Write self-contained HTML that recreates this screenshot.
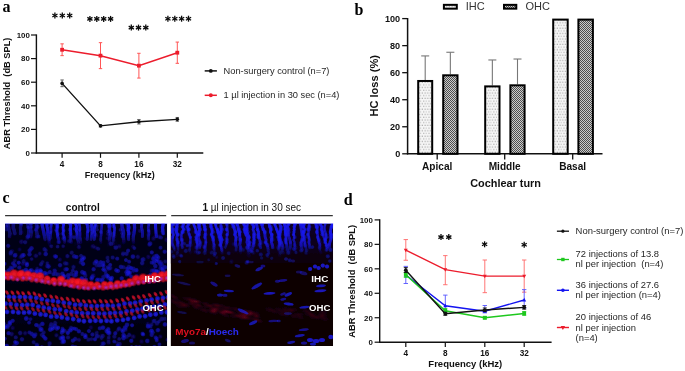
<!DOCTYPE html>
<html><head><meta charset="utf-8"><style>
html,body{margin:0;padding:0;background:#fff;width:685px;height:371px;overflow:hidden}
svg{display:block;will-change:transform}

</style></head><body>
<svg width="685" height="371" viewBox="0 0 685 371">
<defs><radialGradient id="gB"><stop offset="0" stop-color="#2424ff"/><stop offset="0.6" stop-color="#1c1cf4" stop-opacity="0.85"/><stop offset="1" stop-color="#1010c0" stop-opacity="0"/></radialGradient><radialGradient id="gBr"><stop offset="0" stop-color="#1414a0" stop-opacity="0.5"/><stop offset="0.6" stop-color="#2828ff" stop-opacity="0.95"/><stop offset="1" stop-color="#1414c0" stop-opacity="0"/></radialGradient><radialGradient id="gR"><stop offset="0" stop-color="#ff1a28"/><stop offset="0.6" stop-color="#f41020" stop-opacity="0.9"/><stop offset="1" stop-color="#c00010" stop-opacity="0"/></radialGradient><radialGradient id="gD"><stop offset="0" stop-color="#1818e0"/><stop offset="0.55" stop-color="#1414d0" stop-opacity="0.85"/><stop offset="1" stop-color="#0c0ca0" stop-opacity="0"/></radialGradient><radialGradient id="gR2"><stop offset="0" stop-color="#e01030"/><stop offset="0.55" stop-color="#d01028" stop-opacity="0.85"/><stop offset="1" stop-color="#a00010" stop-opacity="0"/></radialGradient><linearGradient id="fL" gradientUnits="userSpaceOnUse" x1="0" y1="223.6" x2="0" y2="247.6"><stop offset="0" stop-color="#1c1cff" stop-opacity="0.95"/><stop offset="0.5" stop-color="#1818f0" stop-opacity="0.7"/><stop offset="1" stop-color="#1010c0" stop-opacity="0"/></linearGradient><linearGradient id="fR" gradientUnits="userSpaceOnUse" x1="0" y1="223.6" x2="0" y2="255.6"><stop offset="0" stop-color="#1a1af8" stop-opacity="1"/><stop offset="0.6" stop-color="#1616f0" stop-opacity="0.8"/><stop offset="1" stop-color="#1010c0" stop-opacity="0"/></linearGradient><linearGradient id="topR" gradientUnits="userSpaceOnUse" x1="0" y1="223.6" x2="0" y2="263.6"><stop offset="0" stop-color="#0c0226"/><stop offset="0.6" stop-color="#0c0218"/><stop offset="1" stop-color="#0e0206"/></linearGradient><radialGradient id="gS"><stop offset="0" stop-color="#1c1cff"/><stop offset="0.6" stop-color="#1616f0" stop-opacity="0.8"/><stop offset="1" stop-color="#1010c0" stop-opacity="0"/></radialGradient><linearGradient id="bgL" gradientUnits="userSpaceOnUse" x1="0" y1="223.6" x2="0" y2="346.0"><stop offset="0" stop-color="#04001c"/><stop offset="0.25" stop-color="#020014"/><stop offset="0.4" stop-color="#02001c"/><stop offset="0.5" stop-color="#020010"/><stop offset="0.8" stop-color="#020012"/><stop offset="1" stop-color="#02000c"/></linearGradient><radialGradient id="gP"><stop offset="0" stop-color="#b828e8"/><stop offset="1" stop-color="#8020c0" stop-opacity="0"/></radialGradient><radialGradient id="gM"><stop offset="0" stop-color="#8a0c28" stop-opacity="0.5"/><stop offset="1" stop-color="#600018" stop-opacity="0"/></radialGradient><filter id="bl" x="-5%" y="-5%" width="110%" height="110%"><feGaussianBlur stdDeviation="0.6"/></filter><clipPath id="cl"><rect x="5.0" y="223.6" width="162.2" height="122.4"/></clipPath><clipPath id="cr"><rect x="170.6" y="223.6" width="162.50000000000003" height="122.4"/></clipPath></defs>
<g clip-path="url(#cl)"><g filter="url(#bl)"><rect x="5.0" y="223.6" width="162.2" height="122.4" fill="url(#bgL)"/><polyline points="7.0,221.6 7.7,224.6 8.6,227.6 9.2,230.6 10.0,233.6 9.5,236.6" fill="none" stroke="url(#fL)" stroke-width="3.5" stroke-linecap="round" stroke-linejoin="round" opacity="0.45"/><circle cx="6.2" cy="226.3" r="2.5" fill="url(#gB)" opacity="0.42"/><circle cx="6.2" cy="229.6" r="2.4" fill="url(#gB)" opacity="0.31"/><polyline points="13.6,221.6 13.4,224.6 13.2,227.6 14.2,230.6 15.0,233.6" fill="none" stroke="url(#fL)" stroke-width="3.6" stroke-linecap="round" stroke-linejoin="round" opacity="0.43"/><circle cx="13.2" cy="233.8" r="2.3" fill="url(#gB)" opacity="0.08"/><polyline points="21.0,221.6 21.2,224.6 20.4,227.6 20.7,230.6 20.5,233.6" fill="none" stroke="url(#fL)" stroke-width="3.4" stroke-linecap="round" stroke-linejoin="round" opacity="0.42"/><circle cx="20.9" cy="223.6" r="2.6" fill="url(#gB)" opacity="0.50"/><circle cx="21.9" cy="232.5" r="2.4" fill="url(#gB)" opacity="0.14"/><circle cx="19.6" cy="235.9" r="2.3" fill="url(#gB)" opacity="0.01"/><polyline points="26.6,221.6 27.5,224.6 28.4,227.6 28.4,230.6 28.3,233.6 28.6,236.6" fill="none" stroke="url(#fL)" stroke-width="2.7" stroke-linecap="round" stroke-linejoin="round" opacity="0.46"/><circle cx="27.9" cy="227.4" r="2.3" fill="url(#gB)" opacity="0.36"/><circle cx="27.9" cy="234.3" r="2.5" fill="url(#gB)" opacity="0.09"/><polyline points="31.5,221.6 30.8,224.6 30.2,227.6 30.5,230.6 31.2,233.6 30.7,236.6" fill="none" stroke="url(#fL)" stroke-width="3.6" stroke-linecap="round" stroke-linejoin="round" opacity="0.43"/><circle cx="30.7" cy="223.6" r="2.6" fill="url(#gB)" opacity="0.50"/><circle cx="31.3" cy="227.3" r="2.2" fill="url(#gB)" opacity="0.37"/><circle cx="31.5" cy="231.2" r="2.7" fill="url(#gB)" opacity="0.23"/><polyline points="37.0,221.6 36.6,224.6 36.7,227.6 36.4,230.6 37.1,233.6 37.0,236.6" fill="none" stroke="url(#fL)" stroke-width="3.6" stroke-linecap="round" stroke-linejoin="round" opacity="0.48"/><circle cx="37.7" cy="226.8" r="2.5" fill="url(#gB)" opacity="0.40"/><circle cx="35.9" cy="229.7" r="2.4" fill="url(#gB)" opacity="0.31"/><circle cx="36.5" cy="237.1" r="2.3" fill="url(#gB)" opacity="0.07"/><polyline points="42.0,221.6 42.0,224.6 42.7,227.6 43.4,230.6 44.0,233.6 44.5,236.6 45.1,239.6" fill="none" stroke="url(#fL)" stroke-width="3.3" stroke-linecap="round" stroke-linejoin="round" opacity="0.78"/><circle cx="42.8" cy="223.6" r="2.6" fill="url(#gB)" opacity="0.50"/><polyline points="46.5,221.6 46.8,224.6 47.2,227.6 47.8,230.6 47.6,233.6 48.1,236.6 48.8,239.6 49.1,242.6 49.9,245.6" fill="none" stroke="url(#fL)" stroke-width="3.1" stroke-linecap="round" stroke-linejoin="round" opacity="0.86"/><circle cx="47.5" cy="223.6" r="2.8" fill="url(#gB)" opacity="0.50"/><circle cx="45.5" cy="246.9" r="2.5" fill="url(#gB)" opacity="0.00"/><polyline points="51.0,221.6 51.4,224.6 50.8,227.6 51.0,230.6 50.7,233.6 50.2,236.6 49.7,239.6" fill="none" stroke="url(#fL)" stroke-width="2.8" stroke-linecap="round" stroke-linejoin="round" opacity="0.76"/><circle cx="50.9" cy="223.6" r="2.4" fill="url(#gB)" opacity="0.50"/><circle cx="50.3" cy="232.4" r="2.4" fill="url(#gB)" opacity="0.27"/><circle cx="51.3" cy="238.1" r="2.3" fill="url(#gB)" opacity="0.11"/><circle cx="51.2" cy="241.4" r="2.8" fill="url(#gB)" opacity="0.02"/><polyline points="56.8,221.6 57.3,224.6 57.3,227.6 56.9,230.6 57.3,233.6 57.6,236.6 58.6,239.6 59.6,242.6" fill="none" stroke="url(#fL)" stroke-width="3.0" stroke-linecap="round" stroke-linejoin="round" opacity="0.97"/><circle cx="55.6" cy="223.6" r="2.5" fill="url(#gB)" opacity="0.50"/><circle cx="57.2" cy="227.0" r="2.7" fill="url(#gB)" opacity="0.42"/><circle cx="56.0" cy="230.1" r="2.4" fill="url(#gB)" opacity="0.34"/><circle cx="58.2" cy="234.0" r="2.7" fill="url(#gB)" opacity="0.24"/><circle cx="58.2" cy="237.4" r="2.5" fill="url(#gB)" opacity="0.16"/><circle cx="58.3" cy="240.6" r="2.5" fill="url(#gB)" opacity="0.08"/><circle cx="55.7" cy="243.5" r="2.6" fill="url(#gB)" opacity="0.01"/><polyline points="62.9,221.6 63.6,224.6 63.1,227.6 63.3,230.6 63.2,233.6 64.1,236.6 64.8,239.6 64.6,242.6" fill="none" stroke="url(#fL)" stroke-width="2.8" stroke-linecap="round" stroke-linejoin="round" opacity="1.00"/><circle cx="63.2" cy="223.6" r="2.5" fill="url(#gB)" opacity="0.50"/><circle cx="63.7" cy="230.7" r="2.4" fill="url(#gB)" opacity="0.32"/><circle cx="62.3" cy="234.0" r="2.5" fill="url(#gB)" opacity="0.23"/><circle cx="63.6" cy="237.2" r="2.6" fill="url(#gB)" opacity="0.15"/><circle cx="62.8" cy="239.7" r="2.7" fill="url(#gB)" opacity="0.08"/><polyline points="70.4,221.6 70.8,224.6 70.5,227.6 70.6,230.6 70.8,233.6 70.9,236.6 70.8,239.6 71.4,242.6" fill="none" stroke="url(#fL)" stroke-width="3.0" stroke-linecap="round" stroke-linejoin="round" opacity="0.96"/><circle cx="69.8" cy="223.6" r="2.7" fill="url(#gB)" opacity="0.50"/><circle cx="69.8" cy="229.7" r="2.7" fill="url(#gB)" opacity="0.36"/><circle cx="70.3" cy="233.6" r="2.5" fill="url(#gB)" opacity="0.27"/><circle cx="69.4" cy="236.9" r="2.6" fill="url(#gB)" opacity="0.19"/><circle cx="69.6" cy="240.6" r="2.7" fill="url(#gB)" opacity="0.10"/><polyline points="75.0,221.6 76.1,224.6 76.7,227.6 76.3,230.6 77.1,233.6 77.0,236.6 77.5,239.6 78.5,242.6 79.1,245.6" fill="none" stroke="url(#fL)" stroke-width="2.9" stroke-linecap="round" stroke-linejoin="round" opacity="0.98"/><circle cx="75.3" cy="223.6" r="2.4" fill="url(#gB)" opacity="0.50"/><circle cx="74.6" cy="228.9" r="2.2" fill="url(#gB)" opacity="0.38"/><circle cx="74.4" cy="237.8" r="2.6" fill="url(#gB)" opacity="0.19"/><circle cx="75.6" cy="244.1" r="2.3" fill="url(#gB)" opacity="0.05"/><polyline points="79.0,221.6 79.4,224.6 79.8,227.6 79.7,230.6 80.0,233.6 79.9,236.6 80.6,239.6 80.9,242.6" fill="none" stroke="url(#fL)" stroke-width="2.8" stroke-linecap="round" stroke-linejoin="round" opacity="0.81"/><circle cx="79.5" cy="229.9" r="2.3" fill="url(#gB)" opacity="0.35"/><circle cx="79.9" cy="238.6" r="2.2" fill="url(#gB)" opacity="0.14"/><circle cx="78.0" cy="242.2" r="2.8" fill="url(#gB)" opacity="0.06"/><polyline points="86.6,221.6 87.3,224.6 87.5,227.6 88.0,230.6 87.3,233.6 87.5,236.6 87.2,239.6" fill="none" stroke="url(#fL)" stroke-width="2.9" stroke-linecap="round" stroke-linejoin="round" opacity="0.88"/><circle cx="86.3" cy="223.6" r="2.3" fill="url(#gB)" opacity="0.50"/><circle cx="87.7" cy="231.1" r="2.5" fill="url(#gB)" opacity="0.30"/><circle cx="85.4" cy="238.1" r="2.2" fill="url(#gB)" opacity="0.12"/><circle cx="87.8" cy="240.9" r="2.5" fill="url(#gB)" opacity="0.04"/><polyline points="91.0,221.6 91.7,224.6 92.0,227.6 92.0,230.6 92.0,233.6 91.4,236.6 91.0,239.6" fill="none" stroke="url(#fL)" stroke-width="3.0" stroke-linecap="round" stroke-linejoin="round" opacity="0.82"/><circle cx="90.3" cy="226.3" r="2.3" fill="url(#gB)" opacity="0.42"/><circle cx="90.9" cy="229.3" r="2.2" fill="url(#gB)" opacity="0.33"/><circle cx="92.3" cy="233.1" r="2.6" fill="url(#gB)" opacity="0.22"/><circle cx="92.3" cy="236.7" r="2.3" fill="url(#gB)" opacity="0.12"/><circle cx="91.5" cy="240.2" r="2.6" fill="url(#gB)" opacity="0.01"/><polyline points="95.8,221.6 95.3,224.6 94.5,227.6 94.3,230.6 94.9,233.6 94.6,236.6 94.2,239.6" fill="none" stroke="url(#fL)" stroke-width="2.9" stroke-linecap="round" stroke-linejoin="round" opacity="0.92"/><circle cx="96.3" cy="226.3" r="2.8" fill="url(#gB)" opacity="0.43"/><circle cx="97.2" cy="229.8" r="2.2" fill="url(#gB)" opacity="0.33"/><circle cx="95.9" cy="235.5" r="2.8" fill="url(#gB)" opacity="0.18"/><circle cx="94.6" cy="238.8" r="2.2" fill="url(#gB)" opacity="0.09"/><polyline points="102.2,221.6 101.8,224.6 101.6,227.6 101.2,230.6 101.3,233.6 100.9,236.6 100.7,239.6 100.9,242.6" fill="none" stroke="url(#fL)" stroke-width="2.7" stroke-linecap="round" stroke-linejoin="round" opacity="0.71"/><circle cx="101.0" cy="232.1" r="2.5" fill="url(#gB)" opacity="0.30"/><circle cx="100.8" cy="239.8" r="2.5" fill="url(#gB)" opacity="0.11"/><polyline points="108.7,221.6 109.6,224.6 109.4,227.6 109.5,230.6 110.3,233.6 110.0,236.6 109.6,239.6 109.5,242.6 109.0,245.6" fill="none" stroke="url(#fL)" stroke-width="3.4" stroke-linecap="round" stroke-linejoin="round" opacity="0.79"/><circle cx="107.4" cy="223.6" r="2.3" fill="url(#gB)" opacity="0.50"/><circle cx="108.9" cy="226.2" r="2.3" fill="url(#gB)" opacity="0.44"/><circle cx="108.1" cy="231.4" r="2.4" fill="url(#gB)" opacity="0.32"/><circle cx="108.1" cy="234.0" r="2.7" fill="url(#gB)" opacity="0.26"/><circle cx="109.7" cy="244.2" r="2.6" fill="url(#gB)" opacity="0.03"/><polyline points="114.0,221.6 113.8,224.6 114.5,227.6 114.5,230.6 114.1,233.6 113.6,236.6 113.2,239.6 113.0,242.6 113.5,245.6" fill="none" stroke="url(#fL)" stroke-width="2.7" stroke-linecap="round" stroke-linejoin="round" opacity="0.93"/><circle cx="112.9" cy="226.1" r="2.4" fill="url(#gB)" opacity="0.44"/><circle cx="113.8" cy="233.3" r="2.4" fill="url(#gB)" opacity="0.29"/><circle cx="114.3" cy="236.3" r="2.7" fill="url(#gB)" opacity="0.22"/><circle cx="114.1" cy="239.9" r="2.3" fill="url(#gB)" opacity="0.14"/><circle cx="115.3" cy="243.5" r="2.7" fill="url(#gB)" opacity="0.06"/><circle cx="115.2" cy="246.2" r="2.5" fill="url(#gB)" opacity="0.01"/><polyline points="121.0,221.6 121.9,224.6 122.2,227.6 123.1,230.6 123.5,233.6 123.1,236.6 123.8,239.6 123.8,242.6" fill="none" stroke="url(#fL)" stroke-width="3.6" stroke-linecap="round" stroke-linejoin="round" opacity="0.71"/><circle cx="120.3" cy="229.9" r="2.3" fill="url(#gB)" opacity="0.35"/><circle cx="121.8" cy="233.3" r="2.3" fill="url(#gB)" opacity="0.26"/><circle cx="122.4" cy="236.3" r="2.7" fill="url(#gB)" opacity="0.19"/><circle cx="122.0" cy="243.2" r="2.5" fill="url(#gB)" opacity="0.02"/><polyline points="128.0,221.6 128.3,224.6 128.9,227.6 128.3,230.6 128.7,233.6 128.4,236.6 128.6,239.6" fill="none" stroke="url(#fL)" stroke-width="3.2" stroke-linecap="round" stroke-linejoin="round" opacity="0.94"/><circle cx="126.5" cy="223.6" r="2.5" fill="url(#gB)" opacity="0.50"/><circle cx="127.7" cy="227.0" r="2.4" fill="url(#gB)" opacity="0.41"/><circle cx="127.6" cy="229.5" r="2.5" fill="url(#gB)" opacity="0.34"/><circle cx="129.4" cy="233.1" r="2.7" fill="url(#gB)" opacity="0.24"/><polyline points="134.0,221.6 134.4,224.6 134.6,227.6 134.4,230.6 133.9,233.6 133.3,236.6 133.2,239.6 133.5,242.6" fill="none" stroke="url(#fL)" stroke-width="3.3" stroke-linecap="round" stroke-linejoin="round" opacity="0.79"/><polyline points="141.0,221.6 141.7,224.6 141.4,227.6 142.3,230.6 142.5,233.6 142.4,236.6" fill="none" stroke="url(#fL)" stroke-width="3.0" stroke-linecap="round" stroke-linejoin="round" opacity="0.75"/><circle cx="139.8" cy="230.9" r="2.6" fill="url(#gB)" opacity="0.23"/><polyline points="149.0,221.6 148.7,224.6 148.3,227.6 148.5,230.6 149.1,233.6 148.5,236.6 148.7,239.6" fill="none" stroke="url(#fL)" stroke-width="2.8" stroke-linecap="round" stroke-linejoin="round" opacity="0.72"/><circle cx="148.8" cy="230.9" r="2.5" fill="url(#gB)" opacity="0.29"/><circle cx="148.3" cy="234.8" r="2.6" fill="url(#gB)" opacity="0.18"/><circle cx="147.6" cy="238.7" r="2.3" fill="url(#gB)" opacity="0.06"/><polyline points="156.0,221.6 155.5,224.6 155.6,227.6 155.8,230.6 156.1,233.6 156.4,236.6" fill="none" stroke="url(#fL)" stroke-width="3.1" stroke-linecap="round" stroke-linejoin="round" opacity="0.95"/><circle cx="154.8" cy="236.7" r="2.3" fill="url(#gB)" opacity="0.08"/><polyline points="163.0,221.6 163.1,224.6 162.5,227.6 162.8,230.6 163.2,233.6" fill="none" stroke="url(#fL)" stroke-width="3.4" stroke-linecap="round" stroke-linejoin="round" opacity="0.91"/><circle cx="161.8" cy="231.5" r="2.2" fill="url(#gB)" opacity="0.19"/><circle cx="162.9" cy="234.3" r="2.6" fill="url(#gB)" opacity="0.07"/><circle cx="163.0" cy="270.8" r="3.0" fill="url(#gD)" opacity="0.71"/><circle cx="42.5" cy="262.0" r="2.7" fill="url(#gD)" opacity="0.34"/><circle cx="82.4" cy="280.4" r="2.7" fill="url(#gD)" opacity="0.83"/><circle cx="3.9" cy="263.6" r="2.5" fill="url(#gD)" opacity="0.43"/><circle cx="76.6" cy="256.9" r="2.7" fill="url(#gD)" opacity="0.64"/><circle cx="117.2" cy="258.6" r="2.7" fill="url(#gD)" opacity="0.58"/><circle cx="110.2" cy="264.8" r="2.5" fill="url(#gD)" opacity="0.62"/><circle cx="128.7" cy="273.9" r="3.0" fill="url(#gD)" opacity="0.54"/><circle cx="164.6" cy="272.5" r="2.8" fill="url(#gD)" opacity="0.50"/><circle cx="150.1" cy="243.6" r="3.0" fill="url(#gD)" opacity="0.53"/><circle cx="155.9" cy="271.5" r="2.6" fill="url(#gD)" opacity="0.56"/><circle cx="47.3" cy="266.1" r="3.0" fill="url(#gD)" opacity="0.39"/><circle cx="99.7" cy="279.8" r="2.8" fill="url(#gD)" opacity="0.48"/><circle cx="93.6" cy="269.2" r="2.8" fill="url(#gD)" opacity="0.63"/><circle cx="4.4" cy="263.8" r="2.8" fill="url(#gD)" opacity="0.60"/><circle cx="111.8" cy="277.9" r="2.8" fill="url(#gD)" opacity="0.70"/><circle cx="26.9" cy="271.7" r="2.7" fill="url(#gD)" opacity="0.75"/><circle cx="75.9" cy="275.7" r="2.6" fill="url(#gD)" opacity="0.37"/><circle cx="125.9" cy="260.1" r="2.5" fill="url(#gD)" opacity="0.62"/><circle cx="85.2" cy="275.6" r="2.9" fill="url(#gD)" opacity="0.39"/><circle cx="39.8" cy="272.7" r="2.5" fill="url(#gD)" opacity="0.69"/><circle cx="23.0" cy="263.7" r="2.7" fill="url(#gD)" opacity="0.32"/><circle cx="46.8" cy="273.7" r="2.6" fill="url(#gD)" opacity="0.53"/><circle cx="111.1" cy="243.9" r="2.8" fill="url(#gD)" opacity="0.44"/><circle cx="92.1" cy="276.9" r="2.9" fill="url(#gD)" opacity="0.55"/><circle cx="133.3" cy="270.9" r="2.6" fill="url(#gD)" opacity="0.45"/><circle cx="62.4" cy="273.7" r="2.9" fill="url(#gD)" opacity="0.65"/><circle cx="143.3" cy="259.3" r="3.1" fill="url(#gD)" opacity="0.45"/><circle cx="108.8" cy="268.8" r="2.7" fill="url(#gD)" opacity="0.46"/><circle cx="71.2" cy="273.9" r="2.7" fill="url(#gD)" opacity="0.42"/><circle cx="158.1" cy="271.5" r="2.6" fill="url(#gD)" opacity="0.73"/><circle cx="22.1" cy="255.7" r="3.1" fill="url(#gD)" opacity="0.50"/><circle cx="164.7" cy="251.7" r="2.8" fill="url(#gD)" opacity="0.61"/><circle cx="129.1" cy="261.7" r="2.6" fill="url(#gD)" opacity="0.58"/><circle cx="25.2" cy="242.2" r="2.8" fill="url(#gD)" opacity="0.42"/><circle cx="20.5" cy="257.3" r="2.7" fill="url(#gD)" opacity="0.31"/><circle cx="128.8" cy="267.0" r="3.1" fill="url(#gD)" opacity="0.45"/><circle cx="142.2" cy="263.2" r="2.9" fill="url(#gD)" opacity="0.52"/><circle cx="29.5" cy="254.3" r="3.0" fill="url(#gD)" opacity="0.58"/><circle cx="164.9" cy="267.3" r="3.0" fill="url(#gD)" opacity="0.65"/><circle cx="67.0" cy="263.7" r="2.7" fill="url(#gD)" opacity="0.30"/><circle cx="27.5" cy="238.1" r="3.0" fill="url(#gD)" opacity="0.23"/><circle cx="82.2" cy="259.5" r="3.0" fill="url(#gD)" opacity="0.58"/><circle cx="19.6" cy="249.5" r="2.6" fill="url(#gD)" opacity="0.26"/><circle cx="151.7" cy="262.6" r="2.7" fill="url(#gD)" opacity="0.50"/><circle cx="155.4" cy="266.1" r="2.9" fill="url(#gD)" opacity="0.63"/><circle cx="116.3" cy="270.3" r="2.8" fill="url(#gD)" opacity="0.70"/><circle cx="162.2" cy="266.8" r="3.1" fill="url(#gD)" opacity="0.37"/><circle cx="28.0" cy="236.3" r="2.9" fill="url(#gD)" opacity="0.40"/><circle cx="82.4" cy="272.3" r="3.1" fill="url(#gD)" opacity="0.61"/><circle cx="76.2" cy="272.4" r="2.7" fill="url(#gD)" opacity="0.71"/><circle cx="14.8" cy="255.5" r="2.9" fill="url(#gD)" opacity="0.52"/><circle cx="18.7" cy="262.7" r="2.7" fill="url(#gD)" opacity="0.70"/><circle cx="23.5" cy="255.1" r="2.9" fill="url(#gD)" opacity="0.64"/><circle cx="81.0" cy="255.9" r="2.7" fill="url(#gD)" opacity="0.44"/><circle cx="14.8" cy="260.5" r="2.7" fill="url(#gD)" opacity="0.34"/><circle cx="53.3" cy="274.1" r="2.6" fill="url(#gD)" opacity="0.52"/><circle cx="19.3" cy="267.5" r="2.9" fill="url(#gD)" opacity="0.55"/><circle cx="103.3" cy="262.8" r="2.8" fill="url(#gD)" opacity="0.59"/><circle cx="153.5" cy="238.6" r="2.9" fill="url(#gD)" opacity="0.29"/><circle cx="105.9" cy="274.4" r="2.8" fill="url(#gD)" opacity="0.48"/><circle cx="10.6" cy="254.1" r="2.8" fill="url(#gD)" opacity="0.29"/><circle cx="39.7" cy="253.6" r="2.6" fill="url(#gD)" opacity="0.34"/><circle cx="133.1" cy="246.7" r="2.7" fill="url(#gD)" opacity="0.26"/><circle cx="98.3" cy="248.8" r="2.7" fill="url(#gD)" opacity="0.40"/><circle cx="64.2" cy="276.8" r="3.0" fill="url(#gD)" opacity="0.72"/><circle cx="134.4" cy="248.3" r="2.5" fill="url(#gD)" opacity="0.44"/><circle cx="37.3" cy="271.2" r="2.9" fill="url(#gD)" opacity="0.69"/><circle cx="107.6" cy="267.3" r="2.6" fill="url(#gD)" opacity="0.51"/><circle cx="103.6" cy="265.7" r="2.7" fill="url(#gD)" opacity="0.50"/><circle cx="102.9" cy="265.2" r="2.8" fill="url(#gD)" opacity="0.54"/><circle cx="8.2" cy="245.8" r="2.7" fill="url(#gD)" opacity="0.55"/><circle cx="49.7" cy="272.1" r="2.7" fill="url(#gD)" opacity="0.57"/><circle cx="131.1" cy="276.3" r="2.5" fill="url(#gD)" opacity="0.60"/><circle cx="120.9" cy="266.9" r="2.9" fill="url(#gD)" opacity="0.58"/><circle cx="13.1" cy="263.4" r="2.8" fill="url(#gD)" opacity="0.56"/><circle cx="136.4" cy="270.2" r="2.8" fill="url(#gD)" opacity="0.76"/><circle cx="160.2" cy="264.1" r="3.0" fill="url(#gD)" opacity="0.56"/><circle cx="121.7" cy="278.4" r="2.8" fill="url(#gD)" opacity="0.68"/><circle cx="56.0" cy="256.6" r="2.6" fill="url(#gD)" opacity="0.64"/><circle cx="46.1" cy="250.4" r="2.6" fill="url(#gD)" opacity="0.31"/><circle cx="107.5" cy="257.7" r="2.8" fill="url(#gD)" opacity="0.38"/><circle cx="26.9" cy="265.0" r="2.8" fill="url(#gD)" opacity="0.68"/><circle cx="93.2" cy="275.7" r="3.1" fill="url(#gD)" opacity="0.36"/><circle cx="151.8" cy="252.4" r="2.7" fill="url(#gD)" opacity="0.63"/><circle cx="154.1" cy="270.7" r="3.1" fill="url(#gD)" opacity="0.62"/><circle cx="27.5" cy="237.1" r="2.7" fill="url(#gD)" opacity="0.20"/><circle cx="55.1" cy="256.3" r="3.0" fill="url(#gD)" opacity="0.46"/><circle cx="142.1" cy="259.9" r="2.6" fill="url(#gD)" opacity="0.32"/><circle cx="151.8" cy="270.8" r="3.0" fill="url(#gD)" opacity="0.41"/><circle cx="160.5" cy="268.1" r="3.0" fill="url(#gD)" opacity="0.48"/><circle cx="154.0" cy="262.0" r="2.7" fill="url(#gD)" opacity="0.46"/><circle cx="123.0" cy="254.6" r="2.6" fill="url(#gD)" opacity="0.31"/><circle cx="132.9" cy="256.6" r="3.0" fill="url(#gD)" opacity="0.64"/><circle cx="10.7" cy="252.6" r="2.9" fill="url(#gD)" opacity="0.41"/><circle cx="81.7" cy="278.6" r="3.0" fill="url(#gD)" opacity="0.81"/><circle cx="57.6" cy="246.6" r="2.5" fill="url(#gD)" opacity="0.46"/><circle cx="153.8" cy="262.8" r="3.1" fill="url(#gD)" opacity="0.39"/><circle cx="99.5" cy="265.2" r="3.0" fill="url(#gD)" opacity="0.56"/><circle cx="96.4" cy="265.8" r="2.5" fill="url(#gD)" opacity="0.35"/><circle cx="23.4" cy="271.1" r="2.9" fill="url(#gD)" opacity="0.63"/><circle cx="100.8" cy="262.1" r="2.6" fill="url(#gD)" opacity="0.59"/><circle cx="127.3" cy="268.7" r="2.6" fill="url(#gD)" opacity="0.66"/><circle cx="41.0" cy="264.4" r="2.8" fill="url(#gD)" opacity="0.45"/><circle cx="47.3" cy="263.2" r="2.5" fill="url(#gD)" opacity="0.38"/><circle cx="84.5" cy="273.1" r="2.7" fill="url(#gD)" opacity="0.68"/><circle cx="91.6" cy="278.5" r="2.9" fill="url(#gD)" opacity="0.66"/><circle cx="23.7" cy="261.1" r="3.0" fill="url(#gD)" opacity="0.37"/><circle cx="34.7" cy="271.9" r="3.0" fill="url(#gD)" opacity="0.52"/><circle cx="153.4" cy="258.7" r="2.9" fill="url(#gD)" opacity="0.69"/><circle cx="107.7" cy="238.2" r="2.7" fill="url(#gD)" opacity="0.27"/><circle cx="63.5" cy="275.8" r="2.6" fill="url(#gD)" opacity="0.84"/><circle cx="74.1" cy="275.3" r="3.0" fill="url(#gD)" opacity="0.47"/><circle cx="165.3" cy="261.5" r="2.8" fill="url(#gD)" opacity="0.38"/><circle cx="44.5" cy="249.2" r="2.9" fill="url(#gD)" opacity="0.43"/><circle cx="51.3" cy="246.3" r="2.6" fill="url(#gD)" opacity="0.38"/><circle cx="15.5" cy="255.0" r="3.0" fill="url(#gD)" opacity="0.39"/><circle cx="40.8" cy="272.0" r="3.0" fill="url(#gD)" opacity="0.58"/><circle cx="94.7" cy="263.2" r="2.9" fill="url(#gD)" opacity="0.49"/><circle cx="161.0" cy="237.6" r="2.7" fill="url(#gD)" opacity="0.44"/><circle cx="95.8" cy="247.7" r="2.7" fill="url(#gD)" opacity="0.28"/><circle cx="26.9" cy="263.5" r="2.6" fill="url(#gD)" opacity="0.60"/><circle cx="68.2" cy="275.4" r="3.0" fill="url(#gD)" opacity="0.65"/><circle cx="156.7" cy="259.0" r="2.7" fill="url(#gD)" opacity="0.51"/><circle cx="29.7" cy="250.5" r="2.9" fill="url(#gD)" opacity="0.58"/><circle cx="96.1" cy="261.2" r="2.8" fill="url(#gD)" opacity="0.49"/><circle cx="107.8" cy="261.1" r="2.8" fill="url(#gD)" opacity="0.45"/><circle cx="107.2" cy="275.8" r="2.8" fill="url(#gD)" opacity="0.61"/><circle cx="68.9" cy="279.1" r="3.0" fill="url(#gD)" opacity="0.70"/><circle cx="156.5" cy="260.6" r="2.9" fill="url(#gD)" opacity="0.73"/><circle cx="108.1" cy="278.0" r="2.5" fill="url(#gD)" opacity="0.42"/><circle cx="74.2" cy="256.4" r="3.0" fill="url(#gD)" opacity="0.57"/><circle cx="107.8" cy="276.3" r="3.0" fill="url(#gD)" opacity="0.53"/><circle cx="40.5" cy="270.6" r="2.9" fill="url(#gD)" opacity="0.82"/><circle cx="65.5" cy="269.4" r="3.0" fill="url(#gD)" opacity="0.46"/><circle cx="31.5" cy="248.3" r="3.0" fill="url(#gD)" opacity="0.60"/><circle cx="69.0" cy="241.2" r="2.9" fill="url(#gD)" opacity="0.30"/><circle cx="48.7" cy="266.5" r="3.0" fill="url(#gD)" opacity="0.51"/><circle cx="128.1" cy="250.6" r="2.7" fill="url(#gD)" opacity="0.59"/><circle cx="76.2" cy="274.5" r="2.6" fill="url(#gD)" opacity="0.34"/><circle cx="150.5" cy="274.7" r="2.6" fill="url(#gD)" opacity="0.58"/><circle cx="31.4" cy="270.4" r="3.0" fill="url(#gD)" opacity="0.59"/><circle cx="85.9" cy="279.5" r="2.6" fill="url(#gD)" opacity="0.78"/><circle cx="156.7" cy="255.9" r="2.9" fill="url(#gD)" opacity="0.68"/><circle cx="123.6" cy="267.2" r="2.8" fill="url(#gD)" opacity="0.43"/><circle cx="37.0" cy="272.3" r="3.0" fill="url(#gD)" opacity="0.77"/><circle cx="110.3" cy="268.1" r="2.9" fill="url(#gD)" opacity="0.38"/><circle cx="96.6" cy="262.0" r="2.7" fill="url(#gD)" opacity="0.45"/><circle cx="60.1" cy="265.2" r="2.9" fill="url(#gD)" opacity="0.55"/><circle cx="161.9" cy="264.2" r="2.9" fill="url(#gD)" opacity="0.37"/><circle cx="12.2" cy="268.4" r="2.6" fill="url(#gD)" opacity="0.55"/><circle cx="160.5" cy="247.7" r="2.6" fill="url(#gD)" opacity="0.55"/><circle cx="137.8" cy="256.8" r="2.9" fill="url(#gD)" opacity="0.38"/><circle cx="73.5" cy="267.0" r="2.9" fill="url(#gD)" opacity="0.40"/><circle cx="83.6" cy="258.3" r="2.6" fill="url(#gD)" opacity="0.45"/><circle cx="137.0" cy="275.8" r="2.6" fill="url(#gD)" opacity="0.42"/><circle cx="26.0" cy="269.5" r="2.6" fill="url(#gD)" opacity="0.64"/><circle cx="81.6" cy="259.9" r="3.0" fill="url(#gD)" opacity="0.47"/><circle cx="126.4" cy="272.2" r="2.9" fill="url(#gD)" opacity="0.55"/><circle cx="105.5" cy="271.0" r="2.6" fill="url(#gD)" opacity="0.50"/><circle cx="97.4" cy="279.9" r="3.0" fill="url(#gD)" opacity="0.77"/><circle cx="123.2" cy="253.4" r="2.9" fill="url(#gD)" opacity="0.37"/><circle cx="110.4" cy="278.5" r="2.8" fill="url(#gD)" opacity="0.79"/><circle cx="58.4" cy="242.3" r="2.5" fill="url(#gD)" opacity="0.45"/><circle cx="166.7" cy="239.9" r="3.0" fill="url(#gD)" opacity="0.30"/><circle cx="158.3" cy="257.4" r="2.7" fill="url(#gD)" opacity="0.58"/><circle cx="67.4" cy="256.1" r="2.9" fill="url(#gD)" opacity="0.43"/><circle cx="67.0" cy="269.2" r="2.5" fill="url(#gD)" opacity="0.61"/><circle cx="63.9" cy="238.4" r="3.0" fill="url(#gD)" opacity="0.46"/><circle cx="148.4" cy="256.9" r="2.9" fill="url(#gD)" opacity="0.31"/><circle cx="35.9" cy="255.8" r="3.0" fill="url(#gD)" opacity="0.36"/><circle cx="92.9" cy="246.4" r="3.0" fill="url(#gD)" opacity="0.33"/><circle cx="127.1" cy="274.6" r="2.7" fill="url(#gD)" opacity="0.59"/><circle cx="30.1" cy="270.7" r="2.6" fill="url(#gD)" opacity="0.84"/><circle cx="128.2" cy="273.3" r="2.8" fill="url(#gD)" opacity="0.58"/><circle cx="54.7" cy="270.7" r="3.0" fill="url(#gD)" opacity="0.53"/><circle cx="27.3" cy="271.5" r="2.6" fill="url(#gD)" opacity="0.37"/><circle cx="38.5" cy="236.5" r="2.6" fill="url(#gD)" opacity="0.46"/><circle cx="78.9" cy="247.1" r="2.9" fill="url(#gD)" opacity="0.34"/><circle cx="59.8" cy="259.6" r="2.8" fill="url(#gD)" opacity="0.30"/><circle cx="156.4" cy="271.1" r="2.8" fill="url(#gD)" opacity="0.54"/><circle cx="37.2" cy="269.0" r="2.9" fill="url(#gD)" opacity="0.36"/><circle cx="130.9" cy="268.1" r="2.7" fill="url(#gD)" opacity="0.74"/><circle cx="127.8" cy="271.7" r="2.9" fill="url(#gD)" opacity="0.77"/><circle cx="159.0" cy="236.8" r="3.0" fill="url(#gD)" opacity="0.35"/><circle cx="72.8" cy="270.7" r="2.6" fill="url(#gD)" opacity="0.49"/><circle cx="4.9" cy="271.9" r="2.7" fill="url(#gD)" opacity="0.76"/><circle cx="158.8" cy="261.7" r="2.9" fill="url(#gD)" opacity="0.60"/><circle cx="10.7" cy="267.7" r="2.8" fill="url(#gD)" opacity="0.46"/><circle cx="83.1" cy="263.9" r="2.8" fill="url(#gD)" opacity="0.70"/><circle cx="119.1" cy="246.4" r="2.9" fill="url(#gD)" opacity="0.33"/><circle cx="103.6" cy="269.5" r="2.9" fill="url(#gD)" opacity="0.75"/><circle cx="149.3" cy="244.7" r="2.8" fill="url(#gD)" opacity="0.38"/><circle cx="45.7" cy="254.0" r="3.0" fill="url(#gD)" opacity="0.64"/><circle cx="102.1" cy="280.4" r="3.0" fill="url(#gD)" opacity="0.78"/><circle cx="8.8" cy="270.4" r="2.8" fill="url(#gD)" opacity="0.65"/><circle cx="118.1" cy="270.9" r="2.7" fill="url(#gD)" opacity="0.61"/><circle cx="55.4" cy="273.8" r="2.9" fill="url(#gD)" opacity="0.38"/><circle cx="112.7" cy="257.5" r="2.8" fill="url(#gD)" opacity="0.46"/><circle cx="12.0" cy="251.3" r="3.0" fill="url(#gD)" opacity="0.29"/><circle cx="80.6" cy="262.4" r="2.6" fill="url(#gD)" opacity="0.39"/><circle cx="133.3" cy="268.7" r="2.9" fill="url(#gD)" opacity="0.52"/><circle cx="162.2" cy="268.7" r="2.6" fill="url(#gD)" opacity="0.76"/><circle cx="103.4" cy="277.1" r="3.0" fill="url(#gD)" opacity="0.47"/><circle cx="14.8" cy="265.6" r="2.9" fill="url(#gD)" opacity="0.62"/><circle cx="31.6" cy="259.1" r="2.5" fill="url(#gD)" opacity="0.37"/><circle cx="21.4" cy="241.8" r="3.1" fill="url(#gD)" opacity="0.33"/><circle cx="44.8" cy="273.3" r="3.1" fill="url(#gD)" opacity="0.74"/><circle cx="63.2" cy="246.2" r="2.5" fill="url(#gD)" opacity="0.37"/><circle cx="58.0" cy="274.6" r="3.1" fill="url(#gD)" opacity="0.46"/><circle cx="83.7" cy="257.6" r="3.1" fill="url(#gD)" opacity="0.50"/><circle cx="129.6" cy="272.6" r="2.9" fill="url(#gD)" opacity="0.78"/><circle cx="111.0" cy="280.2" r="3.0" fill="url(#gD)" opacity="0.73"/><circle cx="97.8" cy="262.9" r="2.5" fill="url(#gD)" opacity="0.30"/><circle cx="65.2" cy="263.3" r="3.1" fill="url(#gD)" opacity="0.37"/><circle cx="154.5" cy="256.4" r="3.1" fill="url(#gD)" opacity="0.36"/><circle cx="115.7" cy="247.6" r="3.0" fill="url(#gD)" opacity="0.53"/><circle cx="29.1" cy="272.9" r="2.9" fill="url(#gD)" opacity="0.37"/><circle cx="71.7" cy="252.7" r="2.9" fill="url(#gD)" opacity="0.39"/><circle cx="126.6" cy="253.8" r="2.9" fill="url(#gD)" opacity="0.49"/><circle cx="83.4" cy="279.9" r="2.8" fill="url(#gD)" opacity="0.37"/><circle cx="73.9" cy="237.0" r="2.5" fill="url(#gD)" opacity="0.40"/><circle cx="161.2" cy="262.0" r="2.6" fill="url(#gD)" opacity="0.37"/><circle cx="2.0" cy="274.5" r="5.9" fill="url(#gR)" opacity="0.98"/><circle cx="8.0" cy="275.4" r="4.7" fill="url(#gR)" opacity="0.95"/><circle cx="14.0" cy="274.2" r="5.8" fill="url(#gR)" opacity="0.92"/><circle cx="21.0" cy="274.3" r="5.4" fill="url(#gR)" opacity="0.99"/><circle cx="27.8" cy="275.0" r="5.3" fill="url(#gR)" opacity="0.97"/><circle cx="33.9" cy="276.2" r="5.0" fill="url(#gR)" opacity="0.91"/><circle cx="40.0" cy="276.8" r="5.5" fill="url(#gR)" opacity="0.92"/><circle cx="47.2" cy="279.0" r="4.3" fill="url(#gR)" opacity="0.91"/><circle cx="53.7" cy="280.7" r="4.4" fill="url(#gR)" opacity="0.99"/><circle cx="61.0" cy="279.9" r="5.2" fill="url(#gR)" opacity="0.97"/><circle cx="66.7" cy="282.6" r="4.2" fill="url(#gR)" opacity="0.91"/><circle cx="72.6" cy="282.2" r="5.8" fill="url(#gR)" opacity="0.94"/><circle cx="78.2" cy="282.3" r="5.3" fill="url(#gR)" opacity="0.99"/><circle cx="84.2" cy="283.7" r="5.9" fill="url(#gR)" opacity="0.91"/><circle cx="90.9" cy="284.6" r="4.3" fill="url(#gR)" opacity="0.93"/><circle cx="97.1" cy="285.4" r="4.7" fill="url(#gR)" opacity="0.94"/><circle cx="104.6" cy="284.8" r="4.6" fill="url(#gR)" opacity="0.95"/><circle cx="110.3" cy="285.0" r="4.6" fill="url(#gR)" opacity="0.96"/><circle cx="117.6" cy="284.1" r="4.9" fill="url(#gR)" opacity="0.97"/><circle cx="124.0" cy="283.3" r="4.3" fill="url(#gR)" opacity="1.00"/><circle cx="129.9" cy="282.0" r="4.8" fill="url(#gR)" opacity="0.93"/><circle cx="135.9" cy="279.1" r="5.1" fill="url(#gR)" opacity="0.92"/><circle cx="143.1" cy="278.6" r="6.0" fill="url(#gR)" opacity="0.94"/><circle cx="148.9" cy="278.2" r="4.6" fill="url(#gR)" opacity="0.98"/><circle cx="154.7" cy="276.4" r="5.1" fill="url(#gR)" opacity="0.99"/><circle cx="161.7" cy="275.4" r="5.1" fill="url(#gR)" opacity="0.98"/><circle cx="168.2" cy="274.7" r="5.5" fill="url(#gR)" opacity="0.90"/><circle cx="4.0" cy="277.5" r="3.5" fill="url(#gR2)" opacity="0.85"/><circle cx="8.3" cy="278.0" r="3.5" fill="url(#gR2)" opacity="0.85"/><circle cx="13.4" cy="278.5" r="3.4" fill="url(#gR2)" opacity="0.85"/><circle cx="17.7" cy="278.8" r="3.2" fill="url(#gR2)" opacity="0.85"/><circle cx="22.6" cy="278.9" r="3.6" fill="url(#gR2)" opacity="0.85"/><circle cx="26.6" cy="278.4" r="3.6" fill="url(#gR2)" opacity="0.85"/><circle cx="31.8" cy="279.4" r="3.8" fill="url(#gR2)" opacity="0.85"/><circle cx="36.9" cy="280.1" r="3.8" fill="url(#gR2)" opacity="0.85"/><circle cx="41.2" cy="280.5" r="3.4" fill="url(#gR2)" opacity="0.85"/><circle cx="45.3" cy="281.6" r="3.5" fill="url(#gR2)" opacity="0.85"/><circle cx="49.5" cy="282.4" r="3.5" fill="url(#gR2)" opacity="0.85"/><circle cx="54.6" cy="283.4" r="3.7" fill="url(#gR2)" opacity="0.85"/><circle cx="59.6" cy="283.5" r="3.5" fill="url(#gR2)" opacity="0.85"/><circle cx="64.6" cy="284.3" r="3.4" fill="url(#gR2)" opacity="0.85"/><circle cx="69.4" cy="285.1" r="3.2" fill="url(#gR2)" opacity="0.85"/><circle cx="73.8" cy="285.9" r="3.7" fill="url(#gR2)" opacity="0.85"/><circle cx="79.3" cy="287.0" r="3.7" fill="url(#gR2)" opacity="0.85"/><circle cx="84.8" cy="287.5" r="3.6" fill="url(#gR2)" opacity="0.85"/><circle cx="88.8" cy="287.7" r="3.7" fill="url(#gR2)" opacity="0.85"/><circle cx="93.3" cy="287.5" r="3.3" fill="url(#gR2)" opacity="0.85"/><circle cx="98.8" cy="287.3" r="3.5" fill="url(#gR2)" opacity="0.85"/><circle cx="103.1" cy="287.7" r="3.8" fill="url(#gR2)" opacity="0.85"/><circle cx="107.7" cy="287.4" r="3.4" fill="url(#gR2)" opacity="0.85"/><circle cx="112.8" cy="287.3" r="3.7" fill="url(#gR2)" opacity="0.85"/><circle cx="116.8" cy="286.5" r="3.8" fill="url(#gR2)" opacity="0.85"/><circle cx="120.8" cy="286.0" r="3.4" fill="url(#gR2)" opacity="0.85"/><circle cx="125.0" cy="285.0" r="3.8" fill="url(#gR2)" opacity="0.85"/><circle cx="129.3" cy="284.4" r="3.7" fill="url(#gR2)" opacity="0.85"/><circle cx="133.5" cy="283.3" r="3.6" fill="url(#gR2)" opacity="0.85"/><circle cx="138.4" cy="282.5" r="3.7" fill="url(#gR2)" opacity="0.85"/><circle cx="143.6" cy="282.1" r="3.3" fill="url(#gR2)" opacity="0.85"/><circle cx="149.0" cy="280.8" r="3.8" fill="url(#gR2)" opacity="0.85"/><circle cx="153.8" cy="280.7" r="3.5" fill="url(#gR2)" opacity="0.85"/><circle cx="158.7" cy="279.9" r="3.5" fill="url(#gR2)" opacity="0.85"/><circle cx="163.2" cy="279.3" r="3.8" fill="url(#gR2)" opacity="0.85"/><circle cx="167.3" cy="278.8" r="3.7" fill="url(#gR2)" opacity="0.85"/><circle cx="5.0" cy="277.5" r="2.5" fill="url(#gP)" opacity="0.85"/><circle cx="11.2" cy="277.4" r="3.0" fill="url(#gP)" opacity="0.85"/><circle cx="17.3" cy="279.5" r="2.6" fill="url(#gP)" opacity="0.85"/><circle cx="23.4" cy="277.9" r="2.6" fill="url(#gP)" opacity="0.85"/><circle cx="29.6" cy="278.3" r="2.9" fill="url(#gP)" opacity="0.85"/><circle cx="36.1" cy="280.0" r="2.8" fill="url(#gP)" opacity="0.85"/><circle cx="42.3" cy="281.3" r="3.1" fill="url(#gP)" opacity="0.85"/><circle cx="48.2" cy="281.9" r="2.5" fill="url(#gP)" opacity="0.85"/><circle cx="54.5" cy="283.6" r="2.6" fill="url(#gP)" opacity="0.85"/><circle cx="60.4" cy="283.6" r="2.8" fill="url(#gP)" opacity="0.85"/><circle cx="65.2" cy="283.9" r="2.8" fill="url(#gP)" opacity="0.85"/><circle cx="71.1" cy="286.0" r="3.0" fill="url(#gP)" opacity="0.85"/><circle cx="77.5" cy="286.9" r="2.6" fill="url(#gP)" opacity="0.85"/><circle cx="83.5" cy="287.8" r="2.6" fill="url(#gP)" opacity="0.85"/><circle cx="88.0" cy="288.3" r="2.6" fill="url(#gP)" opacity="0.85"/><circle cx="94.3" cy="288.3" r="2.8" fill="url(#gP)" opacity="0.85"/><circle cx="99.8" cy="286.5" r="2.5" fill="url(#gP)" opacity="0.85"/><circle cx="106.0" cy="287.6" r="2.7" fill="url(#gP)" opacity="0.85"/><circle cx="110.9" cy="286.5" r="3.0" fill="url(#gP)" opacity="0.85"/><circle cx="116.0" cy="285.8" r="3.0" fill="url(#gP)" opacity="0.85"/><circle cx="121.1" cy="285.1" r="2.8" fill="url(#gP)" opacity="0.85"/><circle cx="126.3" cy="285.0" r="2.8" fill="url(#gP)" opacity="0.85"/><circle cx="131.9" cy="283.5" r="2.8" fill="url(#gP)" opacity="0.85"/><circle cx="138.3" cy="282.4" r="2.8" fill="url(#gP)" opacity="0.85"/><circle cx="143.7" cy="281.9" r="2.7" fill="url(#gP)" opacity="0.85"/><circle cx="149.5" cy="281.9" r="2.6" fill="url(#gP)" opacity="0.85"/><circle cx="154.9" cy="281.0" r="2.5" fill="url(#gP)" opacity="0.85"/><circle cx="160.8" cy="278.8" r="2.8" fill="url(#gP)" opacity="0.85"/><circle cx="166.7" cy="278.0" r="2.5" fill="url(#gP)" opacity="0.85"/><ellipse cx="1.8" cy="292.3" rx="2.0" ry="3.4" transform="rotate(-35 1.8 292.3)" fill="url(#gR2)" opacity="0.85"/><circle cx="3.6" cy="296.5" r="3.0" fill="url(#gB)" opacity="0.85"/><ellipse cx="7.0" cy="292.6" rx="2.0" ry="3.4" transform="rotate(-35 7.0 292.6)" fill="url(#gR2)" opacity="0.85"/><circle cx="9.0" cy="296.8" r="3.0" fill="url(#gB)" opacity="0.85"/><ellipse cx="12.5" cy="292.8" rx="2.0" ry="3.4" transform="rotate(-35 12.5 292.8)" fill="url(#gR2)" opacity="0.85"/><circle cx="14.1" cy="297.2" r="3.0" fill="url(#gB)" opacity="0.85"/><ellipse cx="18.0" cy="292.8" rx="2.0" ry="3.4" transform="rotate(-35 18.0 292.8)" fill="url(#gR2)" opacity="0.85"/><circle cx="19.9" cy="296.9" r="3.0" fill="url(#gB)" opacity="0.85"/><ellipse cx="23.2" cy="293.5" rx="2.0" ry="3.4" transform="rotate(-35 23.2 293.5)" fill="url(#gR2)" opacity="0.85"/><circle cx="25.1" cy="297.1" r="3.0" fill="url(#gB)" opacity="0.85"/><ellipse cx="29.0" cy="293.3" rx="2.0" ry="3.4" transform="rotate(-35 29.0 293.3)" fill="url(#gR2)" opacity="0.85"/><circle cx="30.5" cy="297.3" r="3.0" fill="url(#gB)" opacity="0.85"/><ellipse cx="34.6" cy="293.8" rx="2.0" ry="3.4" transform="rotate(-35 34.6 293.8)" fill="url(#gR2)" opacity="0.85"/><circle cx="36.3" cy="297.9" r="3.0" fill="url(#gB)" opacity="0.85"/><ellipse cx="39.6" cy="295.5" rx="2.0" ry="3.4" transform="rotate(-35 39.6 295.5)" fill="url(#gR2)" opacity="0.85"/><circle cx="41.8" cy="299.2" r="3.0" fill="url(#gB)" opacity="0.85"/><ellipse cx="45.1" cy="295.6" rx="2.0" ry="3.4" transform="rotate(-35 45.1 295.6)" fill="url(#gR2)" opacity="0.85"/><circle cx="47.3" cy="300.6" r="3.0" fill="url(#gB)" opacity="0.85"/><ellipse cx="51.3" cy="296.8" rx="2.0" ry="3.4" transform="rotate(-35 51.3 296.8)" fill="url(#gR2)" opacity="0.85"/><circle cx="52.8" cy="300.8" r="3.0" fill="url(#gB)" opacity="0.85"/><ellipse cx="56.7" cy="297.4" rx="2.0" ry="3.4" transform="rotate(-35 56.7 297.4)" fill="url(#gR2)" opacity="0.85"/><circle cx="58.1" cy="301.7" r="3.0" fill="url(#gB)" opacity="0.85"/><ellipse cx="62.1" cy="299.0" rx="2.0" ry="3.4" transform="rotate(-35 62.1 299.0)" fill="url(#gR2)" opacity="0.85"/><circle cx="63.8" cy="302.7" r="3.0" fill="url(#gB)" opacity="0.85"/><ellipse cx="67.7" cy="299.0" rx="2.0" ry="3.4" transform="rotate(-35 67.7 299.0)" fill="url(#gR2)" opacity="0.85"/><circle cx="69.5" cy="303.4" r="3.0" fill="url(#gB)" opacity="0.85"/><ellipse cx="73.2" cy="299.9" rx="2.0" ry="3.4" transform="rotate(-35 73.2 299.9)" fill="url(#gR2)" opacity="0.85"/><circle cx="75.1" cy="304.7" r="3.0" fill="url(#gB)" opacity="0.85"/><ellipse cx="78.3" cy="300.7" rx="2.0" ry="3.4" transform="rotate(-35 78.3 300.7)" fill="url(#gR2)" opacity="0.85"/><circle cx="80.4" cy="304.7" r="3.0" fill="url(#gB)" opacity="0.85"/><ellipse cx="84.0" cy="301.5" rx="2.0" ry="3.4" transform="rotate(-35 84.0 301.5)" fill="url(#gR2)" opacity="0.85"/><circle cx="85.9" cy="305.5" r="3.0" fill="url(#gB)" opacity="0.85"/><ellipse cx="89.6" cy="301.5" rx="2.0" ry="3.4" transform="rotate(-35 89.6 301.5)" fill="url(#gR2)" opacity="0.85"/><circle cx="91.4" cy="306.2" r="3.0" fill="url(#gB)" opacity="0.85"/><ellipse cx="94.6" cy="301.5" rx="2.0" ry="3.4" transform="rotate(-35 94.6 301.5)" fill="url(#gR2)" opacity="0.85"/><circle cx="97.0" cy="306.1" r="3.0" fill="url(#gB)" opacity="0.85"/><ellipse cx="100.7" cy="301.2" rx="2.0" ry="3.4" transform="rotate(-35 100.7 301.2)" fill="url(#gR2)" opacity="0.85"/><circle cx="102.2" cy="305.7" r="3.0" fill="url(#gB)" opacity="0.85"/><ellipse cx="106.2" cy="301.6" rx="2.0" ry="3.4" transform="rotate(-35 106.2 301.6)" fill="url(#gR2)" opacity="0.85"/><circle cx="107.7" cy="305.5" r="3.0" fill="url(#gB)" opacity="0.85"/><ellipse cx="111.4" cy="301.4" rx="2.0" ry="3.4" transform="rotate(-35 111.4 301.4)" fill="url(#gR2)" opacity="0.85"/><circle cx="112.9" cy="305.9" r="3.0" fill="url(#gB)" opacity="0.85"/><ellipse cx="117.2" cy="300.6" rx="2.0" ry="3.4" transform="rotate(-35 117.2 300.6)" fill="url(#gR2)" opacity="0.85"/><circle cx="118.8" cy="305.3" r="3.0" fill="url(#gB)" opacity="0.85"/><ellipse cx="122.8" cy="300.2" rx="2.0" ry="3.4" transform="rotate(-35 122.8 300.2)" fill="url(#gR2)" opacity="0.85"/><circle cx="124.5" cy="303.7" r="3.0" fill="url(#gB)" opacity="0.85"/><ellipse cx="127.8" cy="298.7" rx="2.0" ry="3.4" transform="rotate(-35 127.8 298.7)" fill="url(#gR2)" opacity="0.85"/><circle cx="130.0" cy="303.4" r="3.0" fill="url(#gB)" opacity="0.85"/><ellipse cx="133.7" cy="297.6" rx="2.0" ry="3.4" transform="rotate(-35 133.7 297.6)" fill="url(#gR2)" opacity="0.85"/><circle cx="135.1" cy="302.7" r="3.0" fill="url(#gB)" opacity="0.85"/><ellipse cx="138.8" cy="297.1" rx="2.0" ry="3.4" transform="rotate(-35 138.8 297.1)" fill="url(#gR2)" opacity="0.85"/><circle cx="140.7" cy="301.4" r="3.0" fill="url(#gB)" opacity="0.85"/><ellipse cx="144.0" cy="296.4" rx="2.0" ry="3.4" transform="rotate(-35 144.0 296.4)" fill="url(#gR2)" opacity="0.85"/><circle cx="146.6" cy="300.5" r="3.0" fill="url(#gB)" opacity="0.85"/><ellipse cx="149.8" cy="295.3" rx="2.0" ry="3.4" transform="rotate(-35 149.8 295.3)" fill="url(#gR2)" opacity="0.85"/><circle cx="151.6" cy="299.6" r="3.0" fill="url(#gB)" opacity="0.85"/><ellipse cx="155.6" cy="294.3" rx="2.0" ry="3.4" transform="rotate(-35 155.6 294.3)" fill="url(#gR2)" opacity="0.85"/><circle cx="157.5" cy="298.6" r="3.0" fill="url(#gB)" opacity="0.85"/><ellipse cx="161.1" cy="293.7" rx="2.0" ry="3.4" transform="rotate(-35 161.1 293.7)" fill="url(#gR2)" opacity="0.85"/><circle cx="163.0" cy="297.9" r="3.0" fill="url(#gB)" opacity="0.85"/><ellipse cx="166.6" cy="292.3" rx="2.0" ry="3.4" transform="rotate(-35 166.6 292.3)" fill="url(#gR2)" opacity="0.85"/><circle cx="168.1" cy="297.3" r="3.0" fill="url(#gB)" opacity="0.85"/><ellipse cx="3.1" cy="300.3" rx="2.0" ry="3.4" transform="rotate(-35 3.1 300.3)" fill="url(#gR2)" opacity="0.65"/><circle cx="5.5" cy="303.7" r="3.0" fill="url(#gB)" opacity="0.85"/><ellipse cx="9.2" cy="300.3" rx="2.0" ry="3.4" transform="rotate(-35 9.2 300.3)" fill="url(#gR2)" opacity="0.65"/><circle cx="10.6" cy="304.1" r="3.0" fill="url(#gB)" opacity="0.85"/><ellipse cx="14.5" cy="300.4" rx="2.0" ry="3.4" transform="rotate(-35 14.5 300.4)" fill="url(#gR2)" opacity="0.65"/><circle cx="16.4" cy="304.9" r="3.0" fill="url(#gB)" opacity="0.85"/><ellipse cx="19.8" cy="300.9" rx="2.0" ry="3.4" transform="rotate(-35 19.8 300.9)" fill="url(#gR2)" opacity="0.65"/><circle cx="22.2" cy="305.1" r="3.0" fill="url(#gB)" opacity="0.85"/><ellipse cx="25.3" cy="300.5" rx="2.0" ry="3.4" transform="rotate(-35 25.3 300.5)" fill="url(#gR2)" opacity="0.65"/><circle cx="27.3" cy="304.8" r="3.0" fill="url(#gB)" opacity="0.85"/><ellipse cx="31.0" cy="300.7" rx="2.0" ry="3.4" transform="rotate(-35 31.0 300.7)" fill="url(#gR2)" opacity="0.65"/><circle cx="32.6" cy="304.9" r="3.0" fill="url(#gB)" opacity="0.85"/><ellipse cx="36.1" cy="301.9" rx="2.0" ry="3.4" transform="rotate(-35 36.1 301.9)" fill="url(#gR2)" opacity="0.65"/><circle cx="38.3" cy="306.6" r="3.0" fill="url(#gB)" opacity="0.85"/><ellipse cx="41.8" cy="303.4" rx="2.0" ry="3.4" transform="rotate(-35 41.8 303.4)" fill="url(#gR2)" opacity="0.65"/><circle cx="43.8" cy="307.6" r="3.0" fill="url(#gB)" opacity="0.85"/><ellipse cx="47.3" cy="303.7" rx="2.0" ry="3.4" transform="rotate(-35 47.3 303.7)" fill="url(#gR2)" opacity="0.65"/><circle cx="49.0" cy="308.4" r="3.0" fill="url(#gB)" opacity="0.85"/><ellipse cx="53.0" cy="305.3" rx="2.0" ry="3.4" transform="rotate(-35 53.0 305.3)" fill="url(#gR2)" opacity="0.65"/><circle cx="54.8" cy="309.3" r="3.0" fill="url(#gB)" opacity="0.85"/><ellipse cx="58.1" cy="306.2" rx="2.0" ry="3.4" transform="rotate(-35 58.1 306.2)" fill="url(#gR2)" opacity="0.65"/><circle cx="60.0" cy="309.6" r="3.0" fill="url(#gB)" opacity="0.85"/><ellipse cx="64.3" cy="306.1" rx="2.0" ry="3.4" transform="rotate(-35 64.3 306.1)" fill="url(#gR2)" opacity="0.65"/><circle cx="66.2" cy="311.2" r="3.0" fill="url(#gB)" opacity="0.85"/><ellipse cx="69.1" cy="307.2" rx="2.0" ry="3.4" transform="rotate(-35 69.1 307.2)" fill="url(#gR2)" opacity="0.65"/><circle cx="71.5" cy="312.0" r="3.0" fill="url(#gB)" opacity="0.85"/><ellipse cx="74.9" cy="308.5" rx="2.0" ry="3.4" transform="rotate(-35 74.9 308.5)" fill="url(#gR2)" opacity="0.65"/><circle cx="76.7" cy="312.5" r="3.0" fill="url(#gB)" opacity="0.85"/><ellipse cx="80.1" cy="309.0" rx="2.0" ry="3.4" transform="rotate(-35 80.1 309.0)" fill="url(#gR2)" opacity="0.65"/><circle cx="82.1" cy="313.3" r="3.0" fill="url(#gB)" opacity="0.85"/><ellipse cx="85.7" cy="308.9" rx="2.0" ry="3.4" transform="rotate(-35 85.7 308.9)" fill="url(#gR2)" opacity="0.65"/><circle cx="87.8" cy="313.3" r="3.0" fill="url(#gB)" opacity="0.85"/><ellipse cx="91.4" cy="308.9" rx="2.0" ry="3.4" transform="rotate(-35 91.4 308.9)" fill="url(#gR2)" opacity="0.65"/><circle cx="93.2" cy="313.3" r="3.0" fill="url(#gB)" opacity="0.85"/><ellipse cx="96.8" cy="309.4" rx="2.0" ry="3.4" transform="rotate(-35 96.8 309.4)" fill="url(#gR2)" opacity="0.65"/><circle cx="99.0" cy="313.5" r="3.0" fill="url(#gB)" opacity="0.85"/><ellipse cx="102.3" cy="309.1" rx="2.0" ry="3.4" transform="rotate(-35 102.3 309.1)" fill="url(#gR2)" opacity="0.65"/><circle cx="104.4" cy="313.7" r="3.0" fill="url(#gB)" opacity="0.85"/><ellipse cx="107.7" cy="308.9" rx="2.0" ry="3.4" transform="rotate(-35 107.7 308.9)" fill="url(#gR2)" opacity="0.65"/><circle cx="110.0" cy="313.2" r="3.0" fill="url(#gB)" opacity="0.85"/><ellipse cx="113.6" cy="308.9" rx="2.0" ry="3.4" transform="rotate(-35 113.6 308.9)" fill="url(#gR2)" opacity="0.65"/><circle cx="115.0" cy="312.9" r="3.0" fill="url(#gB)" opacity="0.85"/><ellipse cx="119.2" cy="308.3" rx="2.0" ry="3.4" transform="rotate(-35 119.2 308.3)" fill="url(#gR2)" opacity="0.65"/><circle cx="120.9" cy="312.7" r="3.0" fill="url(#gB)" opacity="0.85"/><ellipse cx="124.8" cy="307.3" rx="2.0" ry="3.4" transform="rotate(-35 124.8 307.3)" fill="url(#gR2)" opacity="0.65"/><circle cx="126.6" cy="311.3" r="3.0" fill="url(#gB)" opacity="0.85"/><ellipse cx="130.2" cy="305.9" rx="2.0" ry="3.4" transform="rotate(-35 130.2 305.9)" fill="url(#gR2)" opacity="0.65"/><circle cx="132.2" cy="310.8" r="3.0" fill="url(#gB)" opacity="0.85"/><ellipse cx="135.7" cy="305.7" rx="2.0" ry="3.4" transform="rotate(-35 135.7 305.7)" fill="url(#gR2)" opacity="0.65"/><circle cx="137.4" cy="309.6" r="3.0" fill="url(#gB)" opacity="0.85"/><ellipse cx="140.6" cy="304.5" rx="2.0" ry="3.4" transform="rotate(-35 140.6 304.5)" fill="url(#gR2)" opacity="0.65"/><circle cx="142.5" cy="308.9" r="3.0" fill="url(#gB)" opacity="0.85"/><ellipse cx="146.6" cy="303.7" rx="2.0" ry="3.4" transform="rotate(-35 146.6 303.7)" fill="url(#gR2)" opacity="0.65"/><circle cx="148.5" cy="307.3" r="3.0" fill="url(#gB)" opacity="0.85"/><ellipse cx="152.0" cy="302.4" rx="2.0" ry="3.4" transform="rotate(-35 152.0 302.4)" fill="url(#gR2)" opacity="0.65"/><circle cx="154.1" cy="306.7" r="3.0" fill="url(#gB)" opacity="0.85"/><ellipse cx="157.3" cy="301.7" rx="2.0" ry="3.4" transform="rotate(-35 157.3 301.7)" fill="url(#gR2)" opacity="0.65"/><circle cx="159.5" cy="305.8" r="3.0" fill="url(#gB)" opacity="0.85"/><ellipse cx="162.8" cy="300.9" rx="2.0" ry="3.4" transform="rotate(-35 162.8 300.9)" fill="url(#gR2)" opacity="0.65"/><circle cx="164.9" cy="304.5" r="3.0" fill="url(#gB)" opacity="0.85"/><ellipse cx="168.2" cy="299.8" rx="2.0" ry="3.4" transform="rotate(-35 168.2 299.8)" fill="url(#gR2)" opacity="0.65"/><circle cx="170.3" cy="303.9" r="3.0" fill="url(#gB)" opacity="0.85"/><ellipse cx="5.6" cy="307.6" rx="2.0" ry="3.4" transform="rotate(-35 5.6 307.6)" fill="url(#gR2)" opacity="0.65"/><circle cx="7.0" cy="311.9" r="3.0" fill="url(#gB)" opacity="0.85"/><ellipse cx="11.1" cy="307.3" rx="2.0" ry="3.4" transform="rotate(-35 11.1 307.3)" fill="url(#gR2)" opacity="0.65"/><circle cx="13.0" cy="311.9" r="3.0" fill="url(#gB)" opacity="0.85"/><ellipse cx="16.7" cy="308.4" rx="2.0" ry="3.4" transform="rotate(-35 16.7 308.4)" fill="url(#gR2)" opacity="0.65"/><circle cx="18.4" cy="312.5" r="3.0" fill="url(#gB)" opacity="0.85"/><ellipse cx="21.6" cy="308.4" rx="2.0" ry="3.4" transform="rotate(-35 21.6 308.4)" fill="url(#gR2)" opacity="0.65"/><circle cx="24.0" cy="312.6" r="3.0" fill="url(#gB)" opacity="0.85"/><ellipse cx="27.4" cy="308.2" rx="2.0" ry="3.4" transform="rotate(-35 27.4 308.2)" fill="url(#gR2)" opacity="0.65"/><circle cx="29.2" cy="312.3" r="3.0" fill="url(#gB)" opacity="0.85"/><ellipse cx="33.0" cy="309.3" rx="2.0" ry="3.4" transform="rotate(-35 33.0 309.3)" fill="url(#gR2)" opacity="0.65"/><circle cx="34.9" cy="313.6" r="3.0" fill="url(#gB)" opacity="0.85"/><ellipse cx="38.2" cy="310.1" rx="2.0" ry="3.4" transform="rotate(-35 38.2 310.1)" fill="url(#gR2)" opacity="0.65"/><circle cx="40.5" cy="314.3" r="3.0" fill="url(#gB)" opacity="0.85"/><ellipse cx="43.6" cy="310.7" rx="2.0" ry="3.4" transform="rotate(-35 43.6 310.7)" fill="url(#gR2)" opacity="0.65"/><circle cx="45.6" cy="314.9" r="3.0" fill="url(#gB)" opacity="0.85"/><ellipse cx="49.5" cy="311.7" rx="2.0" ry="3.4" transform="rotate(-35 49.5 311.7)" fill="url(#gR2)" opacity="0.65"/><circle cx="51.1" cy="316.5" r="3.0" fill="url(#gB)" opacity="0.85"/><ellipse cx="55.0" cy="313.2" rx="2.0" ry="3.4" transform="rotate(-35 55.0 313.2)" fill="url(#gR2)" opacity="0.65"/><circle cx="56.7" cy="316.6" r="3.0" fill="url(#gB)" opacity="0.85"/><ellipse cx="60.1" cy="314.1" rx="2.0" ry="3.4" transform="rotate(-35 60.1 314.1)" fill="url(#gR2)" opacity="0.65"/><circle cx="61.9" cy="317.4" r="3.0" fill="url(#gB)" opacity="0.85"/><ellipse cx="66.0" cy="314.3" rx="2.0" ry="3.4" transform="rotate(-35 66.0 314.3)" fill="url(#gR2)" opacity="0.65"/><circle cx="67.4" cy="318.5" r="3.0" fill="url(#gB)" opacity="0.85"/><ellipse cx="71.5" cy="314.8" rx="2.0" ry="3.4" transform="rotate(-35 71.5 314.8)" fill="url(#gR2)" opacity="0.65"/><circle cx="73.2" cy="319.1" r="3.0" fill="url(#gB)" opacity="0.85"/><ellipse cx="76.9" cy="316.3" rx="2.0" ry="3.4" transform="rotate(-35 76.9 316.3)" fill="url(#gR2)" opacity="0.65"/><circle cx="78.9" cy="320.4" r="3.0" fill="url(#gB)" opacity="0.85"/><ellipse cx="82.7" cy="316.2" rx="2.0" ry="3.4" transform="rotate(-35 82.7 316.2)" fill="url(#gR2)" opacity="0.65"/><circle cx="84.0" cy="321.2" r="3.0" fill="url(#gB)" opacity="0.85"/><ellipse cx="87.9" cy="316.9" rx="2.0" ry="3.4" transform="rotate(-35 87.9 316.9)" fill="url(#gR2)" opacity="0.65"/><circle cx="90.1" cy="320.9" r="3.0" fill="url(#gB)" opacity="0.85"/><ellipse cx="93.4" cy="317.2" rx="2.0" ry="3.4" transform="rotate(-35 93.4 317.2)" fill="url(#gR2)" opacity="0.65"/><circle cx="95.5" cy="320.7" r="3.0" fill="url(#gB)" opacity="0.85"/><ellipse cx="98.7" cy="317.3" rx="2.0" ry="3.4" transform="rotate(-35 98.7 317.3)" fill="url(#gR2)" opacity="0.65"/><circle cx="100.9" cy="321.0" r="3.0" fill="url(#gB)" opacity="0.85"/><ellipse cx="104.7" cy="316.9" rx="2.0" ry="3.4" transform="rotate(-35 104.7 316.9)" fill="url(#gR2)" opacity="0.65"/><circle cx="106.6" cy="320.8" r="3.0" fill="url(#gB)" opacity="0.85"/><ellipse cx="110.0" cy="316.7" rx="2.0" ry="3.4" transform="rotate(-35 110.0 316.7)" fill="url(#gR2)" opacity="0.65"/><circle cx="111.4" cy="321.2" r="3.0" fill="url(#gB)" opacity="0.85"/><ellipse cx="115.4" cy="316.0" rx="2.0" ry="3.4" transform="rotate(-35 115.4 316.0)" fill="url(#gR2)" opacity="0.65"/><circle cx="117.2" cy="320.3" r="3.0" fill="url(#gB)" opacity="0.85"/><ellipse cx="121.0" cy="315.7" rx="2.0" ry="3.4" transform="rotate(-35 121.0 315.7)" fill="url(#gR2)" opacity="0.65"/><circle cx="123.0" cy="319.9" r="3.0" fill="url(#gB)" opacity="0.85"/><ellipse cx="126.2" cy="313.8" rx="2.0" ry="3.4" transform="rotate(-35 126.2 313.8)" fill="url(#gR2)" opacity="0.65"/><circle cx="128.0" cy="318.9" r="3.0" fill="url(#gB)" opacity="0.85"/><ellipse cx="131.6" cy="313.7" rx="2.0" ry="3.4" transform="rotate(-35 131.6 313.7)" fill="url(#gR2)" opacity="0.65"/><circle cx="134.2" cy="317.9" r="3.0" fill="url(#gB)" opacity="0.85"/><ellipse cx="137.4" cy="312.2" rx="2.0" ry="3.4" transform="rotate(-35 137.4 312.2)" fill="url(#gR2)" opacity="0.65"/><circle cx="139.6" cy="316.4" r="3.0" fill="url(#gB)" opacity="0.85"/><ellipse cx="142.5" cy="311.5" rx="2.0" ry="3.4" transform="rotate(-35 142.5 311.5)" fill="url(#gR2)" opacity="0.65"/><circle cx="145.1" cy="316.2" r="3.0" fill="url(#gB)" opacity="0.85"/><ellipse cx="148.4" cy="310.1" rx="2.0" ry="3.4" transform="rotate(-35 148.4 310.1)" fill="url(#gR2)" opacity="0.65"/><circle cx="150.3" cy="314.7" r="3.0" fill="url(#gB)" opacity="0.85"/><ellipse cx="154.0" cy="309.5" rx="2.0" ry="3.4" transform="rotate(-35 154.0 309.5)" fill="url(#gR2)" opacity="0.65"/><circle cx="155.7" cy="314.2" r="3.0" fill="url(#gB)" opacity="0.85"/><ellipse cx="159.6" cy="308.5" rx="2.0" ry="3.4" transform="rotate(-35 159.6 308.5)" fill="url(#gR2)" opacity="0.65"/><circle cx="161.3" cy="312.4" r="3.0" fill="url(#gB)" opacity="0.85"/><ellipse cx="164.9" cy="307.6" rx="2.0" ry="3.4" transform="rotate(-35 164.9 307.6)" fill="url(#gR2)" opacity="0.65"/><circle cx="166.9" cy="312.2" r="3.0" fill="url(#gB)" opacity="0.85"/><ellipse cx="170.7" cy="307.5" rx="2.0" ry="3.4" transform="rotate(-35 170.7 307.5)" fill="url(#gR2)" opacity="0.65"/><circle cx="172.0" cy="311.9" r="3.0" fill="url(#gB)" opacity="0.85"/><circle cx="68.0" cy="337.4" r="2.9" fill="url(#gD)" opacity="0.45"/><circle cx="90.9" cy="327.5" r="2.7" fill="url(#gD)" opacity="0.29"/><circle cx="85.6" cy="336.9" r="2.6" fill="url(#gD)" opacity="0.43"/><circle cx="4.7" cy="346.4" r="3.0" fill="url(#gD)" opacity="0.41"/><circle cx="167.7" cy="339.7" r="2.8" fill="url(#gD)" opacity="0.40"/><circle cx="119.6" cy="344.1" r="3.0" fill="url(#gD)" opacity="0.47"/><circle cx="148.1" cy="326.3" r="3.0" fill="url(#gD)" opacity="0.74"/><circle cx="9.9" cy="322.3" r="2.9" fill="url(#gD)" opacity="0.59"/><circle cx="26.3" cy="318.5" r="3.1" fill="url(#gD)" opacity="0.74"/><circle cx="154.5" cy="321.0" r="2.9" fill="url(#gD)" opacity="0.47"/><circle cx="64.3" cy="330.9" r="2.9" fill="url(#gD)" opacity="0.45"/><circle cx="30.6" cy="319.1" r="2.5" fill="url(#gD)" opacity="0.46"/><circle cx="123.5" cy="338.0" r="3.1" fill="url(#gD)" opacity="0.69"/><circle cx="151.6" cy="334.9" r="2.8" fill="url(#gD)" opacity="0.60"/><circle cx="108.4" cy="330.1" r="2.8" fill="url(#gD)" opacity="0.48"/><circle cx="85.2" cy="337.0" r="2.8" fill="url(#gD)" opacity="0.55"/><circle cx="55.0" cy="326.1" r="3.1" fill="url(#gD)" opacity="0.63"/><circle cx="49.6" cy="343.4" r="3.0" fill="url(#gD)" opacity="0.42"/><circle cx="50.2" cy="326.6" r="2.5" fill="url(#gD)" opacity="0.37"/><circle cx="154.4" cy="347.2" r="2.9" fill="url(#gD)" opacity="0.74"/><circle cx="11.6" cy="334.1" r="3.1" fill="url(#gD)" opacity="0.38"/><circle cx="6.8" cy="345.9" r="2.9" fill="url(#gD)" opacity="0.72"/><circle cx="16.8" cy="342.9" r="2.9" fill="url(#gD)" opacity="0.68"/><circle cx="55.2" cy="322.9" r="2.9" fill="url(#gD)" opacity="0.42"/><circle cx="29.1" cy="322.6" r="2.6" fill="url(#gD)" opacity="0.55"/><circle cx="132.1" cy="325.3" r="2.6" fill="url(#gD)" opacity="0.66"/><circle cx="43.7" cy="336.6" r="2.6" fill="url(#gD)" opacity="0.66"/><circle cx="99.8" cy="328.3" r="2.7" fill="url(#gD)" opacity="0.59"/><circle cx="42.5" cy="323.7" r="2.7" fill="url(#gD)" opacity="0.26"/><circle cx="12.7" cy="320.8" r="2.7" fill="url(#gD)" opacity="0.66"/><circle cx="151.6" cy="330.8" r="2.9" fill="url(#gD)" opacity="0.66"/><circle cx="164.9" cy="324.4" r="2.9" fill="url(#gD)" opacity="0.70"/><circle cx="127.0" cy="324.8" r="3.0" fill="url(#gD)" opacity="0.63"/><circle cx="102.3" cy="327.3" r="2.5" fill="url(#gD)" opacity="0.25"/><circle cx="95.0" cy="339.3" r="2.6" fill="url(#gD)" opacity="0.67"/><circle cx="70.9" cy="327.8" r="2.9" fill="url(#gD)" opacity="0.38"/><circle cx="38.7" cy="325.5" r="3.0" fill="url(#gD)" opacity="0.30"/><circle cx="42.3" cy="323.9" r="2.9" fill="url(#gD)" opacity="0.59"/><circle cx="74.2" cy="328.5" r="2.5" fill="url(#gD)" opacity="0.71"/><circle cx="103.1" cy="327.7" r="2.9" fill="url(#gD)" opacity="0.67"/><circle cx="36.9" cy="346.4" r="2.6" fill="url(#gD)" opacity="0.47"/><circle cx="75.7" cy="347.2" r="2.8" fill="url(#gD)" opacity="0.62"/><circle cx="123.0" cy="331.1" r="2.8" fill="url(#gD)" opacity="0.48"/><circle cx="58.1" cy="327.7" r="2.6" fill="url(#gD)" opacity="0.74"/><circle cx="157.0" cy="323.4" r="3.1" fill="url(#gD)" opacity="0.42"/><circle cx="129.3" cy="334.9" r="2.8" fill="url(#gD)" opacity="0.46"/><circle cx="8.5" cy="333.2" r="2.7" fill="url(#gD)" opacity="0.71"/><circle cx="108.0" cy="332.4" r="3.0" fill="url(#gD)" opacity="0.54"/><circle cx="108.6" cy="342.3" r="2.9" fill="url(#gD)" opacity="0.36"/><circle cx="147.3" cy="340.9" r="3.0" fill="url(#gD)" opacity="0.62"/><circle cx="41.9" cy="347.5" r="2.9" fill="url(#gD)" opacity="0.71"/><circle cx="50.3" cy="329.5" r="3.0" fill="url(#gD)" opacity="0.75"/><circle cx="119.1" cy="328.5" r="2.7" fill="url(#gD)" opacity="0.52"/><circle cx="4.5" cy="327.5" r="2.8" fill="url(#gD)" opacity="0.71"/><circle cx="117.6" cy="345.6" r="2.6" fill="url(#gD)" opacity="0.69"/><circle cx="39.3" cy="326.7" r="2.9" fill="url(#gD)" opacity="0.37"/><circle cx="5.0" cy="338.7" r="2.5" fill="url(#gD)" opacity="0.57"/><circle cx="20.2" cy="333.0" r="3.0" fill="url(#gD)" opacity="0.46"/><circle cx="36.9" cy="344.9" r="3.1" fill="url(#gD)" opacity="0.49"/><circle cx="125.7" cy="329.9" r="2.5" fill="url(#gD)" opacity="0.36"/><circle cx="102.2" cy="343.3" r="2.6" fill="url(#gD)" opacity="0.32"/><circle cx="52.5" cy="328.6" r="2.7" fill="url(#gD)" opacity="0.62"/><circle cx="63.6" cy="341.7" r="2.9" fill="url(#gD)" opacity="0.71"/><circle cx="100.9" cy="347.4" r="2.7" fill="url(#gD)" opacity="0.52"/><circle cx="36.2" cy="325.0" r="2.7" fill="url(#gD)" opacity="0.68"/><circle cx="153.0" cy="332.5" r="2.7" fill="url(#gD)" opacity="0.41"/><circle cx="97.1" cy="336.3" r="3.1" fill="url(#gD)" opacity="0.59"/><circle cx="62.8" cy="337.3" r="2.8" fill="url(#gD)" opacity="0.73"/><circle cx="33.6" cy="342.2" r="2.7" fill="url(#gD)" opacity="0.45"/><circle cx="9.7" cy="324.9" r="2.7" fill="url(#gD)" opacity="0.38"/><circle cx="108.3" cy="329.0" r="2.7" fill="url(#gD)" opacity="0.52"/><circle cx="91.6" cy="339.1" r="2.6" fill="url(#gD)" opacity="0.38"/><circle cx="131.0" cy="347.8" r="2.6" fill="url(#gD)" opacity="0.29"/><circle cx="149.3" cy="347.9" r="2.7" fill="url(#gD)" opacity="0.73"/><circle cx="101.8" cy="345.9" r="2.5" fill="url(#gD)" opacity="0.26"/><circle cx="142.5" cy="333.7" r="2.6" fill="url(#gD)" opacity="0.64"/><circle cx="3.2" cy="323.0" r="2.9" fill="url(#gD)" opacity="0.62"/><circle cx="88.4" cy="339.6" r="2.9" fill="url(#gD)" opacity="0.38"/><circle cx="61.3" cy="338.6" r="2.6" fill="url(#gD)" opacity="0.64"/><circle cx="155.4" cy="337.2" r="2.6" fill="url(#gD)" opacity="0.39"/><circle cx="100.8" cy="336.0" r="2.7" fill="url(#gD)" opacity="0.26"/><circle cx="67.8" cy="333.0" r="2.6" fill="url(#gD)" opacity="0.74"/><circle cx="131.6" cy="347.1" r="2.6" fill="url(#gD)" opacity="0.59"/><circle cx="122.4" cy="330.4" r="2.9" fill="url(#gD)" opacity="0.61"/><circle cx="101.5" cy="338.2" r="2.7" fill="url(#gD)" opacity="0.38"/><circle cx="56.4" cy="335.2" r="2.8" fill="url(#gD)" opacity="0.35"/><circle cx="12.5" cy="347.7" r="2.7" fill="url(#gD)" opacity="0.69"/><circle cx="151.7" cy="324.2" r="2.6" fill="url(#gD)" opacity="0.37"/><circle cx="3.5" cy="323.9" r="2.9" fill="url(#gD)" opacity="0.60"/><circle cx="31.8" cy="333.9" r="2.9" fill="url(#gD)" opacity="0.61"/><circle cx="116.7" cy="342.5" r="2.6" fill="url(#gD)" opacity="0.31"/><circle cx="123.5" cy="334.9" r="2.9" fill="url(#gD)" opacity="0.61"/><circle cx="131.3" cy="340.8" r="2.8" fill="url(#gD)" opacity="0.70"/><circle cx="114.4" cy="336.6" r="3.0" fill="url(#gD)" opacity="0.42"/><circle cx="60.3" cy="337.9" r="3.1" fill="url(#gD)" opacity="0.35"/><circle cx="51.3" cy="324.3" r="2.9" fill="url(#gD)" opacity="0.49"/><circle cx="82.4" cy="334.0" r="2.7" fill="url(#gD)" opacity="0.54"/><circle cx="29.4" cy="332.4" r="2.6" fill="url(#gD)" opacity="0.51"/><circle cx="85.5" cy="335.3" r="2.7" fill="url(#gD)" opacity="0.65"/><circle cx="42.1" cy="334.8" r="3.1" fill="url(#gD)" opacity="0.43"/><circle cx="72.9" cy="340.6" r="2.8" fill="url(#gD)" opacity="0.64"/><circle cx="150.5" cy="326.4" r="2.8" fill="url(#gD)" opacity="0.49"/><circle cx="79.0" cy="339.9" r="2.6" fill="url(#gD)" opacity="0.39"/><circle cx="43.8" cy="332.4" r="2.7" fill="url(#gD)" opacity="0.40"/><circle cx="160.3" cy="336.6" r="2.7" fill="url(#gD)" opacity="0.30"/><circle cx="108.4" cy="339.4" r="2.8" fill="url(#gD)" opacity="0.27"/><circle cx="103.6" cy="343.6" r="2.8" fill="url(#gD)" opacity="0.58"/><circle cx="61.8" cy="332.7" r="2.7" fill="url(#gD)" opacity="0.63"/><circle cx="126.7" cy="336.9" r="2.8" fill="url(#gD)" opacity="0.40"/><circle cx="164.7" cy="318.9" r="2.8" fill="url(#gD)" opacity="0.40"/><circle cx="136.3" cy="347.2" r="2.9" fill="url(#gD)" opacity="0.61"/><circle cx="37.2" cy="347.7" r="2.8" fill="url(#gD)" opacity="0.69"/><circle cx="7.5" cy="327.3" r="2.9" fill="url(#gD)" opacity="0.34"/><circle cx="4.6" cy="327.1" r="2.9" fill="url(#gD)" opacity="0.68"/><circle cx="34.2" cy="336.1" r="3.0" fill="url(#gD)" opacity="0.63"/><circle cx="108.9" cy="337.0" r="2.6" fill="url(#gD)" opacity="0.39"/><circle cx="96.7" cy="332.9" r="2.9" fill="url(#gD)" opacity="0.37"/><circle cx="106.6" cy="330.9" r="2.9" fill="url(#gD)" opacity="0.69"/><circle cx="151.1" cy="331.6" r="3.1" fill="url(#gD)" opacity="0.32"/><circle cx="68.3" cy="331.0" r="2.7" fill="url(#gD)" opacity="0.28"/><circle cx="62.9" cy="338.1" r="3.0" fill="url(#gD)" opacity="0.47"/><circle cx="156.4" cy="338.5" r="2.9" fill="url(#gD)" opacity="0.67"/><circle cx="62.1" cy="342.2" r="2.8" fill="url(#gD)" opacity="0.39"/><circle cx="114.2" cy="341.5" r="2.5" fill="url(#gD)" opacity="0.61"/><circle cx="161.6" cy="319.0" r="3.1" fill="url(#gD)" opacity="0.46"/><circle cx="157.7" cy="330.2" r="2.8" fill="url(#gD)" opacity="0.58"/><circle cx="53.1" cy="328.0" r="2.9" fill="url(#gD)" opacity="0.42"/><circle cx="7.2" cy="326.1" r="3.0" fill="url(#gD)" opacity="0.62"/><circle cx="25.2" cy="333.2" r="2.9" fill="url(#gD)" opacity="0.34"/><circle cx="139.6" cy="347.3" r="2.9" fill="url(#gD)" opacity="0.64"/><circle cx="70.3" cy="330.3" r="2.9" fill="url(#gD)" opacity="0.69"/><circle cx="125.2" cy="327.7" r="3.1" fill="url(#gD)" opacity="0.70"/><circle cx="117.7" cy="330.2" r="2.6" fill="url(#gD)" opacity="0.31"/><circle cx="133.2" cy="336.7" r="3.1" fill="url(#gD)" opacity="0.34"/><circle cx="62.9" cy="330.3" r="3.0" fill="url(#gD)" opacity="0.63"/><circle cx="124.1" cy="336.1" r="2.7" fill="url(#gD)" opacity="0.45"/><circle cx="22.0" cy="339.3" r="2.9" fill="url(#gD)" opacity="0.52"/><circle cx="147.8" cy="324.0" r="2.9" fill="url(#gD)" opacity="0.30"/><circle cx="45.4" cy="338.5" r="2.8" fill="url(#gD)" opacity="0.69"/><circle cx="40.3" cy="329.9" r="2.7" fill="url(#gD)" opacity="0.40"/><circle cx="115.3" cy="333.2" r="2.7" fill="url(#gD)" opacity="0.64"/><circle cx="15.8" cy="337.4" r="2.8" fill="url(#gD)" opacity="0.46"/><circle cx="76.2" cy="329.2" r="2.6" fill="url(#gD)" opacity="0.61"/><circle cx="56.8" cy="328.8" r="2.6" fill="url(#gD)" opacity="0.57"/><circle cx="119.1" cy="339.0" r="2.5" fill="url(#gD)" opacity="0.47"/><circle cx="72.0" cy="328.8" r="2.9" fill="url(#gD)" opacity="0.45"/><circle cx="143.2" cy="334.4" r="2.6" fill="url(#gD)" opacity="0.68"/><circle cx="12.7" cy="328.0" r="2.7" fill="url(#gD)" opacity="0.30"/><circle cx="109.1" cy="332.9" r="3.1" fill="url(#gD)" opacity="0.71"/><circle cx="9.8" cy="323.2" r="2.9" fill="url(#gD)" opacity="0.60"/><circle cx="41.2" cy="329.3" r="3.1" fill="url(#gD)" opacity="0.72"/><circle cx="63.5" cy="340.7" r="3.1" fill="url(#gD)" opacity="0.58"/><circle cx="72.7" cy="346.5" r="2.8" fill="url(#gD)" opacity="0.59"/><circle cx="153.1" cy="320.9" r="2.6" fill="url(#gD)" opacity="0.28"/><circle cx="49.1" cy="347.2" r="2.9" fill="url(#gD)" opacity="0.43"/><circle cx="102.9" cy="335.9" r="2.8" fill="url(#gD)" opacity="0.42"/><circle cx="156.8" cy="340.6" r="2.5" fill="url(#gD)" opacity="0.55"/><circle cx="158.7" cy="329.8" r="2.6" fill="url(#gD)" opacity="0.28"/><circle cx="92.4" cy="334.5" r="2.8" fill="url(#gD)" opacity="0.59"/><circle cx="75.3" cy="339.0" r="2.9" fill="url(#gD)" opacity="0.54"/><circle cx="88.9" cy="331.0" r="2.7" fill="url(#gD)" opacity="0.59"/><circle cx="158.9" cy="321.5" r="2.5" fill="url(#gD)" opacity="0.48"/><circle cx="159.4" cy="344.4" r="2.6" fill="url(#gD)" opacity="0.56"/><circle cx="15.1" cy="342.1" r="2.5" fill="url(#gD)" opacity="0.72"/><circle cx="62.1" cy="330.9" r="2.7" fill="url(#gD)" opacity="0.31"/><circle cx="62.4" cy="328.5" r="2.5" fill="url(#gD)" opacity="0.48"/><circle cx="141.6" cy="341.6" r="2.8" fill="url(#gD)" opacity="0.31"/><circle cx="78.9" cy="331.3" r="2.8" fill="url(#gD)" opacity="0.69"/><circle cx="35.4" cy="334.4" r="2.8" fill="url(#gD)" opacity="0.47"/><circle cx="14.7" cy="345.4" r="3.0" fill="url(#gD)" opacity="0.36"/></g></g>
<rect x="5.0" y="223.0" width="162.2" height="1" fill="#8a8aff" fill-opacity="0.6"/>
<g clip-path="url(#cr)"><g filter="url(#bl)"><rect x="170.6" y="223.6" width="162.50000000000003" height="122.4" fill="#0e0206"/><rect x="170.6" y="223.6" width="162.50000000000003" height="40" fill="url(#topR)"/><ellipse cx="246.1" cy="314.3" rx="7.4" ry="2.3" transform="rotate(-8 246.1 314.3)" fill="url(#gM)" opacity="0.50"/><ellipse cx="256.5" cy="315.7" rx="4.2" ry="2.2" transform="rotate(3 256.5 315.7)" fill="url(#gM)" opacity="0.50"/><ellipse cx="243.3" cy="317.9" rx="5.1" ry="2.1" transform="rotate(-5 243.3 317.9)" fill="url(#gM)" opacity="0.50"/><ellipse cx="256.4" cy="316.6" rx="4.5" ry="2.3" transform="rotate(11 256.4 316.6)" fill="url(#gM)" opacity="0.50"/><ellipse cx="225.9" cy="310.9" rx="7.1" ry="2.4" transform="rotate(24 225.9 310.9)" fill="url(#gM)" opacity="0.50"/><ellipse cx="230.8" cy="312.5" rx="4.4" ry="2.3" transform="rotate(1 230.8 312.5)" fill="url(#gM)" opacity="0.50"/><ellipse cx="246.9" cy="317.8" rx="6.8" ry="2.7" transform="rotate(-5 246.9 317.8)" fill="url(#gM)" opacity="0.50"/><ellipse cx="174.0" cy="296.9" rx="5.8" ry="2.3" transform="rotate(30 174.0 296.9)" fill="url(#gM)" opacity="0.50"/><ellipse cx="180.8" cy="302.6" rx="5.2" ry="2.2" transform="rotate(23 180.8 302.6)" fill="url(#gM)" opacity="0.50"/><ellipse cx="242.4" cy="313.8" rx="5.9" ry="2.1" transform="rotate(14 242.4 313.8)" fill="url(#gM)" opacity="0.50"/><ellipse cx="236.2" cy="315.8" rx="7.3" ry="2.8" transform="rotate(-2 236.2 315.8)" fill="url(#gM)" opacity="0.50"/><ellipse cx="250.9" cy="312.4" rx="4.9" ry="2.5" transform="rotate(18 250.9 312.4)" fill="url(#gM)" opacity="0.50"/><ellipse cx="227.0" cy="311.8" rx="6.9" ry="2.4" transform="rotate(-8 227.0 311.8)" fill="url(#gM)" opacity="0.50"/><ellipse cx="196.8" cy="305.5" rx="6.9" ry="2.4" transform="rotate(12 196.8 305.5)" fill="url(#gM)" opacity="0.50"/><ellipse cx="245.1" cy="315.4" rx="5.9" ry="2.4" transform="rotate(-6 245.1 315.4)" fill="url(#gM)" opacity="0.50"/><ellipse cx="204.3" cy="310.1" rx="6.0" ry="2.5" transform="rotate(16 204.3 310.1)" fill="url(#gM)" opacity="0.50"/><ellipse cx="192.0" cy="303.4" rx="5.0" ry="2.5" transform="rotate(10 192.0 303.4)" fill="url(#gM)" opacity="0.50"/><ellipse cx="240.3" cy="315.6" rx="5.5" ry="3.0" transform="rotate(13 240.3 315.6)" fill="url(#gM)" opacity="0.50"/><ellipse cx="205.6" cy="303.9" rx="4.1" ry="2.4" transform="rotate(15 205.6 303.9)" fill="url(#gM)" opacity="0.50"/><ellipse cx="195.6" cy="301.6" rx="5.9" ry="2.1" transform="rotate(-1 195.6 301.6)" fill="url(#gM)" opacity="0.50"/><ellipse cx="215.0" cy="310.3" rx="5.4" ry="2.7" transform="rotate(3 215.0 310.3)" fill="url(#gM)" opacity="0.50"/><ellipse cx="184.4" cy="304.7" rx="6.6" ry="2.7" transform="rotate(20 184.4 304.7)" fill="url(#gM)" opacity="0.50"/><ellipse cx="216.1" cy="305.2" rx="4.6" ry="2.5" transform="rotate(16 216.1 305.2)" fill="url(#gM)" opacity="0.50"/><ellipse cx="175.7" cy="302.5" rx="7.7" ry="2.6" transform="rotate(25 175.7 302.5)" fill="url(#gM)" opacity="0.50"/><ellipse cx="214.3" cy="310.4" rx="4.1" ry="2.5" transform="rotate(20 214.3 310.4)" fill="url(#gM)" opacity="0.50"/><ellipse cx="239.7" cy="316.8" rx="5.6" ry="2.0" transform="rotate(20 239.7 316.8)" fill="url(#gM)" opacity="0.50"/><ellipse cx="256.4" cy="320.3" rx="7.5" ry="2.0" transform="rotate(17 256.4 320.3)" fill="url(#gM)" opacity="0.50"/><ellipse cx="251.0" cy="314.1" rx="6.5" ry="2.6" transform="rotate(5 251.0 314.1)" fill="url(#gM)" opacity="0.50"/><ellipse cx="250.7" cy="312.4" rx="4.7" ry="2.7" transform="rotate(21 250.7 312.4)" fill="url(#gM)" opacity="0.50"/><ellipse cx="213.5" cy="311.1" rx="4.8" ry="2.2" transform="rotate(-8 213.5 311.1)" fill="url(#gM)" opacity="0.50"/><ellipse cx="243.7" cy="312.6" rx="6.4" ry="2.5" transform="rotate(12 243.7 312.6)" fill="url(#gM)" opacity="0.50"/><ellipse cx="195.7" cy="301.6" rx="7.2" ry="2.4" transform="rotate(4 195.7 301.6)" fill="url(#gM)" opacity="0.50"/><ellipse cx="218.6" cy="305.6" rx="7.0" ry="2.3" transform="rotate(3 218.6 305.6)" fill="url(#gM)" opacity="0.50"/><ellipse cx="195.1" cy="300.9" rx="6.9" ry="2.7" transform="rotate(22 195.1 300.9)" fill="url(#gM)" opacity="0.50"/><ellipse cx="212.8" cy="310.9" rx="5.6" ry="2.5" transform="rotate(23 212.8 310.9)" fill="url(#gM)" opacity="0.50"/><ellipse cx="198.5" cy="304.9" rx="5.4" ry="2.1" transform="rotate(29 198.5 304.9)" fill="url(#gM)" opacity="0.50"/><ellipse cx="244.5" cy="316.6" rx="4.0" ry="2.9" transform="rotate(-5 244.5 316.6)" fill="url(#gM)" opacity="0.50"/><ellipse cx="249.8" cy="314.4" rx="4.1" ry="2.8" transform="rotate(-9 249.8 314.4)" fill="url(#gM)" opacity="0.50"/><ellipse cx="242.6" cy="311.1" rx="7.3" ry="2.0" transform="rotate(-5 242.6 311.1)" fill="url(#gM)" opacity="0.50"/><ellipse cx="231.0" cy="312.6" rx="6.9" ry="2.1" transform="rotate(13 231.0 312.6)" fill="url(#gM)" opacity="0.50"/><ellipse cx="244.9" cy="317.0" rx="7.4" ry="2.7" transform="rotate(23 244.9 317.0)" fill="url(#gM)" opacity="0.50"/><ellipse cx="215.9" cy="308.5" rx="6.4" ry="2.8" transform="rotate(-3 215.9 308.5)" fill="url(#gM)" opacity="0.50"/><ellipse cx="195.9" cy="307.3" rx="4.9" ry="2.1" transform="rotate(22 195.9 307.3)" fill="url(#gM)" opacity="0.50"/><ellipse cx="255.9" cy="313.7" rx="4.2" ry="2.5" transform="rotate(13 255.9 313.7)" fill="url(#gM)" opacity="0.50"/><ellipse cx="228.0" cy="312.0" rx="5.9" ry="2.1" transform="rotate(4 228.0 312.0)" fill="url(#gM)" opacity="0.50"/><ellipse cx="212.9" cy="312.0" rx="6.0" ry="2.6" transform="rotate(16 212.9 312.0)" fill="url(#gM)" opacity="0.50"/><ellipse cx="225.3" cy="311.9" rx="4.4" ry="2.2" transform="rotate(-2 225.3 311.9)" fill="url(#gM)" opacity="0.50"/><ellipse cx="209.1" cy="305.7" rx="7.6" ry="2.1" transform="rotate(-8 209.1 305.7)" fill="url(#gM)" opacity="0.50"/><ellipse cx="235.7" cy="309.1" rx="4.2" ry="2.3" transform="rotate(6 235.7 309.1)" fill="url(#gM)" opacity="0.50"/><ellipse cx="215.1" cy="309.2" rx="7.0" ry="2.9" transform="rotate(0 215.1 309.2)" fill="url(#gM)" opacity="0.50"/><ellipse cx="211.0" cy="306.8" rx="4.7" ry="2.6" transform="rotate(24 211.0 306.8)" fill="url(#gM)" opacity="0.50"/><ellipse cx="191.4" cy="301.1" rx="4.3" ry="2.4" transform="rotate(30 191.4 301.1)" fill="url(#gM)" opacity="0.50"/><ellipse cx="226.8" cy="307.8" rx="7.9" ry="2.2" transform="rotate(8 226.8 307.8)" fill="url(#gM)" opacity="0.50"/><ellipse cx="223.3" cy="313.9" rx="7.5" ry="2.3" transform="rotate(28 223.3 313.9)" fill="url(#gM)" opacity="0.50"/><ellipse cx="223.0" cy="312.6" rx="5.2" ry="2.6" transform="rotate(19 223.0 312.6)" fill="url(#gM)" opacity="0.50"/><ellipse cx="257.1" cy="319.7" rx="6.4" ry="2.1" transform="rotate(19 257.1 319.7)" fill="url(#gM)" opacity="0.50"/><ellipse cx="183.2" cy="305.6" rx="7.8" ry="2.9" transform="rotate(-6 183.2 305.6)" fill="url(#gM)" opacity="0.50"/><ellipse cx="223.8" cy="311.3" rx="7.1" ry="2.9" transform="rotate(-5 223.8 311.3)" fill="url(#gM)" opacity="0.50"/><ellipse cx="189.4" cy="299.4" rx="7.9" ry="2.5" transform="rotate(14 189.4 299.4)" fill="url(#gM)" opacity="0.50"/><ellipse cx="246.5" cy="312.3" rx="5.3" ry="2.7" transform="rotate(4 246.5 312.3)" fill="url(#gM)" opacity="0.50"/><ellipse cx="310.1" cy="314.2" rx="6.3" ry="2.5" transform="rotate(5 310.1 314.2)" fill="url(#gM)" opacity="0.35"/><ellipse cx="324.0" cy="318.5" rx="5.1" ry="2.6" transform="rotate(14 324.0 318.5)" fill="url(#gM)" opacity="0.35"/><ellipse cx="279.5" cy="310.2" rx="5.7" ry="2.6" transform="rotate(23 279.5 310.2)" fill="url(#gM)" opacity="0.35"/><ellipse cx="298.6" cy="314.2" rx="5.8" ry="2.0" transform="rotate(3 298.6 314.2)" fill="url(#gM)" opacity="0.35"/><ellipse cx="311.8" cy="316.2" rx="4.3" ry="2.9" transform="rotate(25 311.8 316.2)" fill="url(#gM)" opacity="0.35"/><ellipse cx="316.7" cy="317.5" rx="5.3" ry="2.3" transform="rotate(5 316.7 317.5)" fill="url(#gM)" opacity="0.35"/><ellipse cx="290.6" cy="310.1" rx="4.8" ry="2.7" transform="rotate(24 290.6 310.1)" fill="url(#gM)" opacity="0.35"/><ellipse cx="269.7" cy="309.7" rx="5.0" ry="2.8" transform="rotate(9 269.7 309.7)" fill="url(#gM)" opacity="0.35"/><ellipse cx="283.2" cy="314.1" rx="6.9" ry="2.6" transform="rotate(14 283.2 314.1)" fill="url(#gM)" opacity="0.35"/><ellipse cx="313.5" cy="315.6" rx="6.6" ry="2.4" transform="rotate(25 313.5 315.6)" fill="url(#gM)" opacity="0.35"/><ellipse cx="321.5" cy="316.2" rx="6.5" ry="2.9" transform="rotate(-5 321.5 316.2)" fill="url(#gM)" opacity="0.35"/><ellipse cx="286.5" cy="312.1" rx="6.3" ry="2.8" transform="rotate(14 286.5 312.1)" fill="url(#gM)" opacity="0.35"/><ellipse cx="299.3" cy="316.5" rx="5.4" ry="2.7" transform="rotate(21 299.3 316.5)" fill="url(#gM)" opacity="0.35"/><ellipse cx="293.7" cy="315.9" rx="4.1" ry="2.6" transform="rotate(19 293.7 315.9)" fill="url(#gM)" opacity="0.35"/><ellipse cx="307.3" cy="311.6" rx="6.1" ry="2.6" transform="rotate(18 307.3 311.6)" fill="url(#gM)" opacity="0.35"/><ellipse cx="322.6" cy="312.7" rx="4.9" ry="2.7" transform="rotate(-8 322.6 312.7)" fill="url(#gM)" opacity="0.35"/><ellipse cx="292.0" cy="310.2" rx="6.5" ry="2.6" transform="rotate(-6 292.0 310.2)" fill="url(#gM)" opacity="0.35"/><ellipse cx="274.3" cy="311.3" rx="5.2" ry="2.5" transform="rotate(14 274.3 311.3)" fill="url(#gM)" opacity="0.35"/><ellipse cx="285.3" cy="309.5" rx="4.2" ry="2.9" transform="rotate(-2 285.3 309.5)" fill="url(#gM)" opacity="0.35"/><ellipse cx="322.1" cy="315.2" rx="4.7" ry="2.6" transform="rotate(-7 322.1 315.2)" fill="url(#gM)" opacity="0.35"/><polyline points="172.6,221.6 172.5,224.2 171.9,226.8 172.4,229.4 172.1,232.0 173.2,234.6 172.8,237.2 172.3,239.8 172.1,242.4 172.9,245.0 173.8,247.6 174.6,250.2" fill="none" stroke="url(#fR)" stroke-width="2.5" stroke-linecap="round" stroke-linejoin="round" opacity="0.83"/><circle cx="173.3" cy="221.6" r="2.7" fill="url(#gS)" opacity="0.69"/><circle cx="173.3" cy="224.2" r="2.8" fill="url(#gS)" opacity="0.83"/><circle cx="173.1" cy="229.4" r="2.7" fill="url(#gS)" opacity="0.72"/><circle cx="172.3" cy="232.0" r="2.2" fill="url(#gS)" opacity="0.67"/><circle cx="173.8" cy="234.6" r="2.3" fill="url(#gS)" opacity="0.48"/><circle cx="172.2" cy="237.2" r="2.3" fill="url(#gS)" opacity="0.48"/><circle cx="172.1" cy="245.0" r="2.3" fill="url(#gS)" opacity="0.32"/><circle cx="174.4" cy="247.6" r="2.5" fill="url(#gS)" opacity="0.19"/><polyline points="177.7,221.6 177.1,224.2 176.4,226.8 176.5,229.4 176.4,232.0 177.5,234.6 176.8,237.2 177.0,239.8 177.7,242.4 177.5,245.0 178.0,247.6 178.0,250.2 177.6,252.8 177.0,255.4" fill="none" stroke="url(#fR)" stroke-width="2.7" stroke-linecap="round" stroke-linejoin="round" opacity="0.84"/><circle cx="177.1" cy="221.6" r="2.3" fill="url(#gS)" opacity="0.85"/><circle cx="177.3" cy="224.2" r="2.3" fill="url(#gS)" opacity="0.58"/><circle cx="177.1" cy="226.8" r="2.4" fill="url(#gS)" opacity="0.66"/><circle cx="176.4" cy="229.4" r="2.8" fill="url(#gS)" opacity="0.64"/><circle cx="176.2" cy="232.0" r="2.6" fill="url(#gS)" opacity="0.57"/><circle cx="177.8" cy="234.6" r="2.5" fill="url(#gS)" opacity="0.72"/><circle cx="177.4" cy="239.8" r="2.6" fill="url(#gS)" opacity="0.34"/><circle cx="178.1" cy="242.4" r="2.7" fill="url(#gS)" opacity="0.43"/><circle cx="178.0" cy="245.0" r="2.7" fill="url(#gS)" opacity="0.29"/><circle cx="177.3" cy="252.8" r="2.3" fill="url(#gS)" opacity="0.18"/><circle cx="176.9" cy="255.4" r="2.4" fill="url(#gS)" opacity="0.13"/><polyline points="182.8,221.6 183.5,224.2 183.1,226.8 183.3,229.4 182.4,232.0 181.4,234.6 181.4,237.2 181.5,239.8 182.3,242.4 181.7,245.0 182.4,247.6" fill="none" stroke="url(#fR)" stroke-width="2.5" stroke-linecap="round" stroke-linejoin="round" opacity="0.84"/><circle cx="183.0" cy="221.6" r="2.7" fill="url(#gS)" opacity="0.83"/><circle cx="183.2" cy="224.2" r="2.3" fill="url(#gS)" opacity="0.66"/><circle cx="182.4" cy="226.8" r="2.4" fill="url(#gS)" opacity="0.84"/><circle cx="184.0" cy="229.4" r="2.3" fill="url(#gS)" opacity="0.69"/><circle cx="182.6" cy="232.0" r="2.8" fill="url(#gS)" opacity="0.67"/><circle cx="182.1" cy="239.8" r="2.6" fill="url(#gS)" opacity="0.43"/><circle cx="182.2" cy="245.0" r="2.7" fill="url(#gS)" opacity="0.17"/><circle cx="182.4" cy="247.6" r="2.5" fill="url(#gS)" opacity="0.15"/><polyline points="187.5,221.6 188.4,224.2 187.8,226.8 188.2,229.4 188.3,232.0 189.4,234.6 190.3,237.2 190.5,239.8 190.3,242.4 189.7,245.0 189.9,247.6 189.6,250.2 190.4,252.8" fill="none" stroke="url(#fR)" stroke-width="2.6" stroke-linecap="round" stroke-linejoin="round" opacity="0.72"/><circle cx="187.0" cy="221.6" r="2.3" fill="url(#gS)" opacity="0.52"/><circle cx="188.5" cy="224.2" r="2.5" fill="url(#gS)" opacity="0.65"/><circle cx="187.0" cy="226.8" r="2.4" fill="url(#gS)" opacity="0.76"/><circle cx="188.5" cy="229.4" r="2.7" fill="url(#gS)" opacity="0.89"/><circle cx="189.1" cy="234.6" r="2.2" fill="url(#gS)" opacity="0.41"/><circle cx="190.3" cy="237.2" r="2.2" fill="url(#gS)" opacity="0.57"/><circle cx="190.2" cy="242.4" r="2.4" fill="url(#gS)" opacity="0.27"/><circle cx="190.5" cy="245.0" r="2.7" fill="url(#gS)" opacity="0.25"/><circle cx="189.1" cy="250.2" r="2.4" fill="url(#gS)" opacity="0.15"/><polyline points="193.2,221.6 193.7,224.2 194.7,226.8 195.6,229.4 196.1,232.0 197.3,234.6 196.5,237.2 196.6,239.8 196.8,242.4 197.5,245.0 197.0,247.6 197.1,250.2 197.4,252.8 197.8,255.4" fill="none" stroke="url(#fR)" stroke-width="2.6" stroke-linecap="round" stroke-linejoin="round" opacity="0.94"/><circle cx="193.8" cy="221.6" r="2.5" fill="url(#gS)" opacity="0.81"/><circle cx="195.6" cy="232.0" r="2.5" fill="url(#gS)" opacity="0.63"/><circle cx="197.6" cy="234.6" r="2.8" fill="url(#gS)" opacity="0.41"/><circle cx="196.1" cy="237.2" r="2.4" fill="url(#gS)" opacity="0.47"/><circle cx="196.1" cy="239.8" r="2.3" fill="url(#gS)" opacity="0.47"/><circle cx="197.4" cy="242.4" r="2.2" fill="url(#gS)" opacity="0.45"/><circle cx="198.0" cy="245.0" r="2.3" fill="url(#gS)" opacity="0.44"/><circle cx="196.4" cy="247.6" r="2.7" fill="url(#gS)" opacity="0.32"/><circle cx="198.1" cy="252.8" r="2.7" fill="url(#gS)" opacity="0.20"/><polyline points="199.1,221.6 198.7,224.2 199.4,226.8 199.2,229.4 199.3,232.0 199.2,234.6 198.7,237.2 199.1,239.8 200.2,242.4 200.2,245.0 199.9,247.6" fill="none" stroke="url(#fR)" stroke-width="2.4" stroke-linecap="round" stroke-linejoin="round" opacity="0.73"/><circle cx="199.4" cy="221.6" r="2.8" fill="url(#gS)" opacity="0.77"/><circle cx="199.1" cy="224.2" r="2.7" fill="url(#gS)" opacity="0.90"/><circle cx="198.8" cy="226.8" r="2.8" fill="url(#gS)" opacity="0.77"/><circle cx="199.9" cy="229.4" r="2.7" fill="url(#gS)" opacity="0.64"/><circle cx="198.8" cy="232.0" r="2.8" fill="url(#gS)" opacity="0.70"/><circle cx="198.7" cy="234.6" r="2.6" fill="url(#gS)" opacity="0.70"/><circle cx="198.5" cy="239.8" r="2.6" fill="url(#gS)" opacity="0.29"/><circle cx="200.0" cy="242.4" r="2.8" fill="url(#gS)" opacity="0.37"/><circle cx="200.3" cy="245.0" r="2.6" fill="url(#gS)" opacity="0.21"/><circle cx="199.2" cy="247.6" r="2.6" fill="url(#gS)" opacity="0.19"/><polyline points="205.0,221.6 204.1,224.2 204.5,226.8 204.9,229.4 205.5,232.0 205.1,234.6 205.0,237.2 205.7,239.8 205.9,242.4 205.5,245.0 204.8,247.6 205.3,250.2 204.9,252.8 205.8,255.4" fill="none" stroke="url(#fR)" stroke-width="2.6" stroke-linecap="round" stroke-linejoin="round" opacity="0.75"/><circle cx="205.0" cy="221.6" r="2.6" fill="url(#gS)" opacity="0.51"/><circle cx="203.9" cy="224.2" r="2.5" fill="url(#gS)" opacity="0.73"/><circle cx="204.8" cy="226.8" r="2.3" fill="url(#gS)" opacity="0.79"/><circle cx="205.1" cy="229.4" r="2.6" fill="url(#gS)" opacity="0.86"/><circle cx="205.5" cy="234.6" r="2.5" fill="url(#gS)" opacity="0.63"/><circle cx="204.9" cy="237.2" r="2.5" fill="url(#gS)" opacity="0.50"/><circle cx="205.8" cy="242.4" r="2.2" fill="url(#gS)" opacity="0.37"/><circle cx="205.3" cy="245.0" r="2.3" fill="url(#gS)" opacity="0.31"/><circle cx="204.7" cy="247.6" r="2.5" fill="url(#gS)" opacity="0.33"/><circle cx="205.2" cy="250.2" r="2.5" fill="url(#gS)" opacity="0.25"/><circle cx="204.7" cy="252.8" r="2.8" fill="url(#gS)" opacity="0.23"/><polyline points="209.8,221.6 210.7,224.2 210.8,226.8 211.7,229.4 212.1,232.0 211.3,234.6 212.5,237.2 213.5,239.8 213.5,242.4 214.3,245.0 213.9,247.6 214.4,250.2" fill="none" stroke="url(#fR)" stroke-width="2.5" stroke-linecap="round" stroke-linejoin="round" opacity="0.91"/><circle cx="209.3" cy="221.6" r="2.5" fill="url(#gS)" opacity="0.79"/><circle cx="211.0" cy="224.2" r="2.3" fill="url(#gS)" opacity="0.70"/><circle cx="211.2" cy="226.8" r="2.4" fill="url(#gS)" opacity="0.81"/><circle cx="212.4" cy="229.4" r="2.4" fill="url(#gS)" opacity="0.55"/><circle cx="212.8" cy="232.0" r="2.6" fill="url(#gS)" opacity="0.55"/><circle cx="211.6" cy="234.6" r="2.6" fill="url(#gS)" opacity="0.43"/><circle cx="213.0" cy="237.2" r="2.6" fill="url(#gS)" opacity="0.62"/><circle cx="213.0" cy="239.8" r="2.5" fill="url(#gS)" opacity="0.46"/><circle cx="213.7" cy="245.0" r="2.7" fill="url(#gS)" opacity="0.30"/><circle cx="213.9" cy="247.6" r="2.8" fill="url(#gS)" opacity="0.18"/><circle cx="213.8" cy="250.2" r="2.8" fill="url(#gS)" opacity="0.11"/><polyline points="215.1,221.6 215.4,224.2 216.0,226.8 217.0,229.4 218.0,232.0 218.4,234.6 219.4,237.2 220.2,239.8 220.3,242.4 220.6,245.0 221.1,247.6 221.6,250.2" fill="none" stroke="url(#fR)" stroke-width="2.5" stroke-linecap="round" stroke-linejoin="round" opacity="0.91"/><circle cx="215.8" cy="224.2" r="2.3" fill="url(#gS)" opacity="0.63"/><circle cx="217.8" cy="229.4" r="2.3" fill="url(#gS)" opacity="0.84"/><circle cx="218.1" cy="232.0" r="2.8" fill="url(#gS)" opacity="0.57"/><circle cx="219.4" cy="237.2" r="2.5" fill="url(#gS)" opacity="0.58"/><circle cx="219.8" cy="239.8" r="2.4" fill="url(#gS)" opacity="0.47"/><circle cx="220.1" cy="245.0" r="2.7" fill="url(#gS)" opacity="0.36"/><circle cx="222.1" cy="250.2" r="2.3" fill="url(#gS)" opacity="0.14"/><polyline points="220.7,221.6 220.9,224.2 221.2,226.8 221.2,229.4 220.8,232.0 220.3,234.6 221.2,237.2 222.2,239.8 221.5,242.4 220.9,245.0 221.1,247.6 221.8,250.2 222.0,252.8" fill="none" stroke="url(#fR)" stroke-width="2.5" stroke-linecap="round" stroke-linejoin="round" opacity="0.80"/><circle cx="221.2" cy="221.6" r="2.3" fill="url(#gS)" opacity="0.58"/><circle cx="220.9" cy="226.8" r="2.7" fill="url(#gS)" opacity="0.58"/><circle cx="221.8" cy="229.4" r="2.7" fill="url(#gS)" opacity="0.63"/><circle cx="221.0" cy="232.0" r="2.7" fill="url(#gS)" opacity="0.69"/><circle cx="220.6" cy="234.6" r="2.3" fill="url(#gS)" opacity="0.68"/><circle cx="220.7" cy="237.2" r="2.5" fill="url(#gS)" opacity="0.60"/><circle cx="222.0" cy="239.8" r="2.3" fill="url(#gS)" opacity="0.49"/><circle cx="221.2" cy="242.4" r="2.2" fill="url(#gS)" opacity="0.32"/><circle cx="220.3" cy="245.0" r="2.3" fill="url(#gS)" opacity="0.38"/><circle cx="221.8" cy="247.6" r="2.5" fill="url(#gS)" opacity="0.25"/><circle cx="222.1" cy="250.2" r="2.3" fill="url(#gS)" opacity="0.16"/><circle cx="222.3" cy="252.8" r="2.5" fill="url(#gS)" opacity="0.12"/><polyline points="226.5,221.6 226.8,224.2 227.3,226.8 226.9,229.4 227.8,232.0 227.4,234.6 226.8,237.2 227.1,239.8 227.2,242.4 226.2,245.0 225.3,247.6" fill="none" stroke="url(#fR)" stroke-width="2.5" stroke-linecap="round" stroke-linejoin="round" opacity="0.71"/><circle cx="226.9" cy="224.2" r="2.4" fill="url(#gS)" opacity="0.54"/><circle cx="226.6" cy="229.4" r="2.5" fill="url(#gS)" opacity="0.71"/><circle cx="227.0" cy="234.6" r="2.2" fill="url(#gS)" opacity="0.67"/><circle cx="226.6" cy="239.8" r="2.7" fill="url(#gS)" opacity="0.39"/><circle cx="226.4" cy="242.4" r="2.5" fill="url(#gS)" opacity="0.38"/><polyline points="231.7,221.6 232.9,224.2 234.1,226.8 234.4,229.4 235.6,232.0 235.0,234.6 236.1,237.2 235.8,239.8 235.5,242.4 235.7,245.0 236.3,247.6 236.2,250.2" fill="none" stroke="url(#fR)" stroke-width="2.9" stroke-linecap="round" stroke-linejoin="round" opacity="0.84"/><circle cx="232.2" cy="221.6" r="2.6" fill="url(#gS)" opacity="0.87"/><circle cx="232.3" cy="224.2" r="2.2" fill="url(#gS)" opacity="0.76"/><circle cx="233.3" cy="226.8" r="2.5" fill="url(#gS)" opacity="0.73"/><circle cx="235.4" cy="232.0" r="2.7" fill="url(#gS)" opacity="0.69"/><circle cx="234.8" cy="234.6" r="2.3" fill="url(#gS)" opacity="0.62"/><circle cx="236.0" cy="237.2" r="2.2" fill="url(#gS)" opacity="0.48"/><circle cx="235.8" cy="239.8" r="2.3" fill="url(#gS)" opacity="0.30"/><circle cx="236.2" cy="245.0" r="2.6" fill="url(#gS)" opacity="0.19"/><circle cx="235.4" cy="250.2" r="2.4" fill="url(#gS)" opacity="0.09"/><polyline points="236.9,221.6 237.0,224.2 238.1,226.8 238.2,229.4 239.3,232.0 239.8,234.6 239.8,237.2 240.7,239.8 240.2,242.4 239.8,245.0 240.8,247.6 240.6,250.2 240.7,252.8" fill="none" stroke="url(#fR)" stroke-width="2.9" stroke-linecap="round" stroke-linejoin="round" opacity="0.84"/><circle cx="237.2" cy="224.2" r="2.6" fill="url(#gS)" opacity="0.58"/><circle cx="238.9" cy="229.4" r="2.6" fill="url(#gS)" opacity="0.62"/><circle cx="239.7" cy="232.0" r="2.6" fill="url(#gS)" opacity="0.77"/><circle cx="239.3" cy="234.6" r="2.3" fill="url(#gS)" opacity="0.58"/><circle cx="240.0" cy="239.8" r="2.5" fill="url(#gS)" opacity="0.44"/><circle cx="240.4" cy="247.6" r="2.3" fill="url(#gS)" opacity="0.19"/><circle cx="240.1" cy="250.2" r="2.3" fill="url(#gS)" opacity="0.20"/><polyline points="242.7,221.6 243.9,224.2 245.0,226.8 244.8,229.4 244.8,232.0 245.9,234.6 247.1,237.2 247.1,239.8 246.8,242.4 247.6,245.0 247.0,247.6 248.1,250.2 247.8,252.8 248.6,255.4" fill="none" stroke="url(#fR)" stroke-width="2.6" stroke-linecap="round" stroke-linejoin="round" opacity="0.92"/><circle cx="243.0" cy="221.6" r="2.3" fill="url(#gS)" opacity="0.80"/><circle cx="244.2" cy="224.2" r="2.7" fill="url(#gS)" opacity="0.67"/><circle cx="245.5" cy="226.8" r="2.7" fill="url(#gS)" opacity="0.74"/><circle cx="244.7" cy="229.4" r="2.7" fill="url(#gS)" opacity="0.77"/><circle cx="245.2" cy="232.0" r="2.6" fill="url(#gS)" opacity="0.48"/><circle cx="246.1" cy="234.6" r="2.3" fill="url(#gS)" opacity="0.41"/><circle cx="248.3" cy="245.0" r="2.2" fill="url(#gS)" opacity="0.41"/><circle cx="247.0" cy="247.6" r="2.8" fill="url(#gS)" opacity="0.34"/><circle cx="248.5" cy="250.2" r="2.4" fill="url(#gS)" opacity="0.25"/><circle cx="248.6" cy="252.8" r="2.2" fill="url(#gS)" opacity="0.13"/><circle cx="248.9" cy="255.4" r="2.6" fill="url(#gS)" opacity="0.10"/><polyline points="247.7,221.6 247.5,224.2 247.2,226.8 247.2,229.4 246.9,232.0 248.2,234.6 249.4,237.2 248.8,239.8 249.5,242.4 249.6,245.0 249.2,247.6 250.2,250.2 250.2,252.8" fill="none" stroke="url(#fR)" stroke-width="2.4" stroke-linecap="round" stroke-linejoin="round" opacity="0.90"/><circle cx="248.5" cy="221.6" r="2.5" fill="url(#gS)" opacity="0.83"/><circle cx="246.7" cy="229.4" r="2.7" fill="url(#gS)" opacity="0.51"/><circle cx="247.6" cy="232.0" r="2.7" fill="url(#gS)" opacity="0.54"/><circle cx="248.7" cy="237.2" r="2.5" fill="url(#gS)" opacity="0.45"/><circle cx="249.6" cy="242.4" r="2.3" fill="url(#gS)" opacity="0.41"/><circle cx="249.1" cy="245.0" r="2.7" fill="url(#gS)" opacity="0.32"/><circle cx="248.5" cy="247.6" r="2.2" fill="url(#gS)" opacity="0.26"/><circle cx="250.8" cy="250.2" r="2.3" fill="url(#gS)" opacity="0.23"/><polyline points="252.3,221.6 252.8,224.2 253.8,226.8 253.0,229.4 253.9,232.0 253.9,234.6 253.7,237.2 254.2,239.8 254.0,242.4 253.3,245.0 252.5,247.6 251.7,250.2 252.8,252.8" fill="none" stroke="url(#fR)" stroke-width="2.8" stroke-linecap="round" stroke-linejoin="round" opacity="0.81"/><circle cx="252.2" cy="224.2" r="2.3" fill="url(#gS)" opacity="0.67"/><circle cx="253.7" cy="226.8" r="2.5" fill="url(#gS)" opacity="0.75"/><circle cx="254.4" cy="234.6" r="2.8" fill="url(#gS)" opacity="0.72"/><circle cx="254.1" cy="237.2" r="2.3" fill="url(#gS)" opacity="0.61"/><circle cx="253.9" cy="239.8" r="2.3" fill="url(#gS)" opacity="0.56"/><circle cx="253.4" cy="242.4" r="2.7" fill="url(#gS)" opacity="0.46"/><circle cx="253.7" cy="245.0" r="2.7" fill="url(#gS)" opacity="0.37"/><circle cx="253.1" cy="247.6" r="2.3" fill="url(#gS)" opacity="0.19"/><circle cx="252.3" cy="250.2" r="2.5" fill="url(#gS)" opacity="0.21"/><circle cx="253.5" cy="252.8" r="2.6" fill="url(#gS)" opacity="0.14"/><polyline points="257.2,221.6 256.7,224.2 257.2,226.8 257.7,229.4 258.7,232.0 258.4,234.6 258.6,237.2 259.7,239.8 260.2,242.4 259.8,245.0 260.7,247.6" fill="none" stroke="url(#fR)" stroke-width="2.8" stroke-linecap="round" stroke-linejoin="round" opacity="0.78"/><circle cx="258.0" cy="221.6" r="2.7" fill="url(#gS)" opacity="0.72"/><circle cx="256.2" cy="224.2" r="2.5" fill="url(#gS)" opacity="0.58"/><circle cx="257.4" cy="229.4" r="2.4" fill="url(#gS)" opacity="0.85"/><circle cx="258.1" cy="232.0" r="2.2" fill="url(#gS)" opacity="0.51"/><circle cx="258.5" cy="234.6" r="2.5" fill="url(#gS)" opacity="0.60"/><circle cx="258.6" cy="237.2" r="2.8" fill="url(#gS)" opacity="0.59"/><circle cx="260.9" cy="242.4" r="2.8" fill="url(#gS)" opacity="0.22"/><circle cx="259.4" cy="245.0" r="2.7" fill="url(#gS)" opacity="0.24"/><circle cx="260.3" cy="247.6" r="2.3" fill="url(#gS)" opacity="0.19"/><polyline points="263.0,221.6 262.3,224.2 262.3,226.8 263.5,229.4 264.6,232.0 264.9,234.6 265.2,237.2 266.1,239.8 265.7,242.4 267.0,245.0 267.8,247.6 268.4,250.2 268.5,252.8" fill="none" stroke="url(#fR)" stroke-width="2.9" stroke-linecap="round" stroke-linejoin="round" opacity="0.81"/><circle cx="262.7" cy="221.6" r="2.7" fill="url(#gS)" opacity="0.67"/><circle cx="261.9" cy="224.2" r="2.8" fill="url(#gS)" opacity="0.89"/><circle cx="263.0" cy="229.4" r="2.2" fill="url(#gS)" opacity="0.54"/><circle cx="264.8" cy="232.0" r="2.7" fill="url(#gS)" opacity="0.53"/><circle cx="265.4" cy="242.4" r="2.5" fill="url(#gS)" opacity="0.47"/><circle cx="267.5" cy="245.0" r="2.7" fill="url(#gS)" opacity="0.38"/><circle cx="268.0" cy="247.6" r="2.2" fill="url(#gS)" opacity="0.22"/><circle cx="267.9" cy="250.2" r="2.4" fill="url(#gS)" opacity="0.18"/><circle cx="268.5" cy="252.8" r="2.3" fill="url(#gS)" opacity="0.12"/><polyline points="269.0,221.6 269.2,224.2 269.7,226.8 270.8,229.4 270.4,232.0 271.6,234.6 271.9,237.2 271.4,239.8 271.4,242.4 272.4,245.0 272.5,247.6" fill="none" stroke="url(#fR)" stroke-width="2.9" stroke-linecap="round" stroke-linejoin="round" opacity="0.91"/><circle cx="269.3" cy="221.6" r="2.7" fill="url(#gS)" opacity="0.85"/><circle cx="270.4" cy="226.8" r="2.8" fill="url(#gS)" opacity="0.65"/><circle cx="271.3" cy="229.4" r="2.7" fill="url(#gS)" opacity="0.52"/><circle cx="271.9" cy="234.6" r="2.4" fill="url(#gS)" opacity="0.67"/><circle cx="271.2" cy="237.2" r="2.5" fill="url(#gS)" opacity="0.43"/><circle cx="272.2" cy="239.8" r="2.8" fill="url(#gS)" opacity="0.44"/><circle cx="272.2" cy="245.0" r="2.5" fill="url(#gS)" opacity="0.21"/><circle cx="273.0" cy="247.6" r="2.5" fill="url(#gS)" opacity="0.19"/><polyline points="274.2,221.6 274.8,224.2 275.7,226.8 276.5,229.4 277.5,232.0 278.6,234.6 278.9,237.2 278.8,239.8 279.6,242.4 279.6,245.0 279.1,247.6 278.6,250.2 279.7,252.8 279.1,255.4" fill="none" stroke="url(#fR)" stroke-width="2.6" stroke-linecap="round" stroke-linejoin="round" opacity="0.94"/><circle cx="274.2" cy="221.6" r="2.4" fill="url(#gS)" opacity="0.58"/><circle cx="274.6" cy="224.2" r="2.5" fill="url(#gS)" opacity="0.52"/><circle cx="276.9" cy="229.4" r="2.3" fill="url(#gS)" opacity="0.49"/><circle cx="278.1" cy="232.0" r="2.5" fill="url(#gS)" opacity="0.47"/><circle cx="278.9" cy="234.6" r="2.8" fill="url(#gS)" opacity="0.43"/><circle cx="278.2" cy="237.2" r="2.5" fill="url(#gS)" opacity="0.63"/><circle cx="279.0" cy="239.8" r="2.4" fill="url(#gS)" opacity="0.52"/><circle cx="279.7" cy="242.4" r="2.8" fill="url(#gS)" opacity="0.41"/><circle cx="279.3" cy="245.0" r="2.4" fill="url(#gS)" opacity="0.43"/><circle cx="278.4" cy="247.6" r="2.8" fill="url(#gS)" opacity="0.33"/><circle cx="280.4" cy="252.8" r="2.3" fill="url(#gS)" opacity="0.20"/><circle cx="279.8" cy="255.4" r="2.3" fill="url(#gS)" opacity="0.09"/><polyline points="279.5,221.6 279.8,224.2 280.9,226.8 280.7,229.4 280.1,232.0 280.1,234.6 279.8,237.2 280.3,239.8 281.4,242.4 282.4,245.0 282.9,247.6 282.4,250.2 282.9,252.8" fill="none" stroke="url(#fR)" stroke-width="2.8" stroke-linecap="round" stroke-linejoin="round" opacity="0.71"/><circle cx="279.6" cy="221.6" r="2.6" fill="url(#gS)" opacity="0.88"/><circle cx="280.8" cy="226.8" r="2.6" fill="url(#gS)" opacity="0.67"/><circle cx="280.9" cy="229.4" r="2.5" fill="url(#gS)" opacity="0.57"/><circle cx="280.0" cy="232.0" r="2.6" fill="url(#gS)" opacity="0.74"/><circle cx="279.3" cy="234.6" r="2.3" fill="url(#gS)" opacity="0.51"/><circle cx="279.5" cy="237.2" r="2.3" fill="url(#gS)" opacity="0.58"/><circle cx="280.1" cy="239.8" r="2.5" fill="url(#gS)" opacity="0.45"/><circle cx="281.6" cy="242.4" r="2.4" fill="url(#gS)" opacity="0.28"/><circle cx="281.7" cy="245.0" r="2.7" fill="url(#gS)" opacity="0.35"/><circle cx="282.6" cy="247.6" r="2.5" fill="url(#gS)" opacity="0.28"/><circle cx="281.7" cy="250.2" r="2.3" fill="url(#gS)" opacity="0.20"/><circle cx="283.1" cy="252.8" r="2.3" fill="url(#gS)" opacity="0.14"/><polyline points="284.2,221.6 284.4,224.2 285.0,226.8 285.5,229.4 285.4,232.0 285.7,234.6 286.0,237.2 285.9,239.8 286.1,242.4 286.8,245.0 286.8,247.6 287.6,250.2 288.8,252.8" fill="none" stroke="url(#fR)" stroke-width="2.8" stroke-linecap="round" stroke-linejoin="round" opacity="0.93"/><circle cx="285.1" cy="224.2" r="2.5" fill="url(#gS)" opacity="0.52"/><circle cx="285.8" cy="226.8" r="2.3" fill="url(#gS)" opacity="0.58"/><circle cx="285.0" cy="229.4" r="2.3" fill="url(#gS)" opacity="0.72"/><circle cx="285.8" cy="232.0" r="2.7" fill="url(#gS)" opacity="0.59"/><circle cx="285.6" cy="234.6" r="2.5" fill="url(#gS)" opacity="0.54"/><circle cx="285.6" cy="239.8" r="2.7" fill="url(#gS)" opacity="0.46"/><circle cx="285.6" cy="242.4" r="2.4" fill="url(#gS)" opacity="0.38"/><circle cx="287.0" cy="250.2" r="2.4" fill="url(#gS)" opacity="0.17"/><circle cx="289.4" cy="252.8" r="2.7" fill="url(#gS)" opacity="0.10"/><polyline points="289.0,221.6 288.2,224.2 287.4,226.8 288.2,229.4 288.0,232.0 288.2,234.6 289.0,237.2 289.9,239.8 290.4,242.4 290.4,245.0 290.4,247.6 289.8,250.2" fill="none" stroke="url(#fR)" stroke-width="3.0" stroke-linecap="round" stroke-linejoin="round" opacity="0.71"/><circle cx="288.6" cy="224.2" r="2.4" fill="url(#gS)" opacity="0.88"/><circle cx="287.5" cy="226.8" r="2.3" fill="url(#gS)" opacity="0.69"/><circle cx="288.5" cy="229.4" r="2.6" fill="url(#gS)" opacity="0.49"/><circle cx="288.6" cy="232.0" r="2.6" fill="url(#gS)" opacity="0.48"/><circle cx="287.9" cy="234.6" r="2.8" fill="url(#gS)" opacity="0.45"/><circle cx="290.4" cy="242.4" r="2.3" fill="url(#gS)" opacity="0.24"/><circle cx="289.6" cy="247.6" r="2.3" fill="url(#gS)" opacity="0.18"/><polyline points="294.7,221.6 294.6,224.2 294.4,226.8 294.1,229.4 294.3,232.0 293.7,234.6 294.3,237.2 293.5,239.8 294.6,242.4 294.7,245.0 294.8,247.6 294.8,250.2" fill="none" stroke="url(#fR)" stroke-width="2.3" stroke-linecap="round" stroke-linejoin="round" opacity="0.72"/><circle cx="294.1" cy="221.6" r="2.5" fill="url(#gS)" opacity="0.78"/><circle cx="295.0" cy="224.2" r="2.4" fill="url(#gS)" opacity="0.90"/><circle cx="294.2" cy="226.8" r="2.2" fill="url(#gS)" opacity="0.82"/><circle cx="294.2" cy="229.4" r="2.2" fill="url(#gS)" opacity="0.77"/><circle cx="293.7" cy="232.0" r="2.2" fill="url(#gS)" opacity="0.55"/><circle cx="293.5" cy="234.6" r="2.2" fill="url(#gS)" opacity="0.73"/><circle cx="294.7" cy="237.2" r="2.6" fill="url(#gS)" opacity="0.39"/><circle cx="294.6" cy="245.0" r="2.5" fill="url(#gS)" opacity="0.37"/><circle cx="295.6" cy="247.6" r="2.6" fill="url(#gS)" opacity="0.21"/><circle cx="295.1" cy="250.2" r="2.7" fill="url(#gS)" opacity="0.15"/><polyline points="299.5,221.6 300.5,224.2 300.9,226.8 301.3,229.4 301.7,232.0 302.5,234.6 302.6,237.2 302.0,239.8 301.3,242.4 301.1,245.0 301.7,247.6 302.2,250.2" fill="none" stroke="url(#fR)" stroke-width="3.0" stroke-linecap="round" stroke-linejoin="round" opacity="0.78"/><circle cx="301.1" cy="224.2" r="2.7" fill="url(#gS)" opacity="0.70"/><circle cx="302.4" cy="232.0" r="2.6" fill="url(#gS)" opacity="0.47"/><circle cx="302.2" cy="234.6" r="2.7" fill="url(#gS)" opacity="0.53"/><circle cx="302.2" cy="239.8" r="2.5" fill="url(#gS)" opacity="0.45"/><circle cx="300.9" cy="242.4" r="2.4" fill="url(#gS)" opacity="0.29"/><circle cx="301.1" cy="245.0" r="2.3" fill="url(#gS)" opacity="0.38"/><circle cx="301.1" cy="247.6" r="2.4" fill="url(#gS)" opacity="0.18"/><circle cx="302.0" cy="250.2" r="2.5" fill="url(#gS)" opacity="0.15"/><polyline points="304.3,221.6 303.7,224.2 303.8,226.8 304.6,229.4 303.7,232.0 303.7,234.6 304.1,237.2 304.4,239.8 304.9,242.4 305.1,245.0 305.9,247.6 306.1,250.2 305.6,252.8 306.0,255.4" fill="none" stroke="url(#fR)" stroke-width="2.5" stroke-linecap="round" stroke-linejoin="round" opacity="0.74"/><circle cx="304.5" cy="221.6" r="2.7" fill="url(#gS)" opacity="0.60"/><circle cx="304.0" cy="224.2" r="2.6" fill="url(#gS)" opacity="0.73"/><circle cx="303.1" cy="226.8" r="2.5" fill="url(#gS)" opacity="0.88"/><circle cx="305.3" cy="229.4" r="2.3" fill="url(#gS)" opacity="0.55"/><circle cx="303.7" cy="232.0" r="2.7" fill="url(#gS)" opacity="0.74"/><circle cx="304.8" cy="237.2" r="2.7" fill="url(#gS)" opacity="0.45"/><circle cx="303.7" cy="239.8" r="2.4" fill="url(#gS)" opacity="0.37"/><circle cx="304.5" cy="242.4" r="2.6" fill="url(#gS)" opacity="0.30"/><circle cx="304.8" cy="245.0" r="2.7" fill="url(#gS)" opacity="0.38"/><circle cx="306.8" cy="250.2" r="2.5" fill="url(#gS)" opacity="0.20"/><circle cx="306.3" cy="252.8" r="2.6" fill="url(#gS)" opacity="0.19"/><polyline points="310.0,221.6 309.2,224.2 309.0,226.8 308.2,229.4 308.6,232.0 308.4,234.6 308.9,237.2 309.2,239.8 308.8,242.4 309.6,245.0 309.5,247.6" fill="none" stroke="url(#fR)" stroke-width="2.5" stroke-linecap="round" stroke-linejoin="round" opacity="0.72"/><circle cx="310.4" cy="221.6" r="2.2" fill="url(#gS)" opacity="0.85"/><circle cx="309.3" cy="226.8" r="2.6" fill="url(#gS)" opacity="0.68"/><circle cx="308.8" cy="229.4" r="2.6" fill="url(#gS)" opacity="0.62"/><circle cx="307.7" cy="234.6" r="2.3" fill="url(#gS)" opacity="0.66"/><circle cx="308.6" cy="237.2" r="2.3" fill="url(#gS)" opacity="0.44"/><circle cx="309.3" cy="239.8" r="2.3" fill="url(#gS)" opacity="0.30"/><circle cx="309.2" cy="242.4" r="2.5" fill="url(#gS)" opacity="0.24"/><circle cx="309.2" cy="245.0" r="2.4" fill="url(#gS)" opacity="0.26"/><circle cx="309.9" cy="247.6" r="2.5" fill="url(#gS)" opacity="0.17"/><polyline points="316.0,221.6 315.8,224.2 316.5,226.8 317.3,229.4 316.8,232.0 317.6,234.6 317.8,237.2 318.4,239.8 319.0,242.4 320.0,245.0 319.5,247.6 319.8,250.2 321.0,252.8" fill="none" stroke="url(#fR)" stroke-width="2.6" stroke-linecap="round" stroke-linejoin="round" opacity="0.79"/><circle cx="315.3" cy="221.6" r="2.2" fill="url(#gS)" opacity="0.90"/><circle cx="316.2" cy="224.2" r="2.3" fill="url(#gS)" opacity="0.72"/><circle cx="316.9" cy="226.8" r="2.8" fill="url(#gS)" opacity="0.83"/><circle cx="317.0" cy="232.0" r="2.6" fill="url(#gS)" opacity="0.56"/><circle cx="317.7" cy="237.2" r="2.3" fill="url(#gS)" opacity="0.56"/><circle cx="318.7" cy="239.8" r="2.5" fill="url(#gS)" opacity="0.52"/><circle cx="319.7" cy="242.4" r="2.6" fill="url(#gS)" opacity="0.28"/><circle cx="319.9" cy="245.0" r="2.2" fill="url(#gS)" opacity="0.24"/><circle cx="319.8" cy="247.6" r="2.8" fill="url(#gS)" opacity="0.23"/><polyline points="321.1,221.6 320.6,224.2 322.0,226.8 321.4,229.4 322.5,232.0 322.9,234.6 323.8,237.2 324.9,239.8 325.4,242.4 326.4,245.0 326.9,247.6 327.2,250.2" fill="none" stroke="url(#fR)" stroke-width="2.5" stroke-linecap="round" stroke-linejoin="round" opacity="0.81"/><circle cx="321.2" cy="221.6" r="2.7" fill="url(#gS)" opacity="0.74"/><circle cx="319.9" cy="224.2" r="2.5" fill="url(#gS)" opacity="0.71"/><circle cx="321.4" cy="226.8" r="2.2" fill="url(#gS)" opacity="0.60"/><circle cx="321.7" cy="229.4" r="2.6" fill="url(#gS)" opacity="0.52"/><circle cx="322.4" cy="232.0" r="2.6" fill="url(#gS)" opacity="0.60"/><circle cx="322.1" cy="234.6" r="2.2" fill="url(#gS)" opacity="0.63"/><circle cx="324.9" cy="239.8" r="2.7" fill="url(#gS)" opacity="0.33"/><circle cx="326.6" cy="245.0" r="2.5" fill="url(#gS)" opacity="0.28"/><circle cx="327.3" cy="247.6" r="2.6" fill="url(#gS)" opacity="0.24"/><circle cx="326.5" cy="250.2" r="2.2" fill="url(#gS)" opacity="0.15"/><polyline points="326.1,221.6 325.3,224.2 324.5,226.8 324.6,229.4 325.4,232.0 325.8,234.6 326.3,237.2 325.4,239.8 325.5,242.4 326.4,245.0 327.2,247.6 326.3,250.2" fill="none" stroke="url(#fR)" stroke-width="2.4" stroke-linecap="round" stroke-linejoin="round" opacity="0.75"/><circle cx="325.7" cy="221.6" r="2.3" fill="url(#gS)" opacity="0.62"/><circle cx="325.9" cy="234.6" r="2.4" fill="url(#gS)" opacity="0.49"/><circle cx="326.7" cy="237.2" r="2.4" fill="url(#gS)" opacity="0.39"/><circle cx="325.2" cy="239.8" r="2.3" fill="url(#gS)" opacity="0.52"/><circle cx="324.9" cy="242.4" r="2.3" fill="url(#gS)" opacity="0.40"/><circle cx="327.3" cy="247.6" r="2.4" fill="url(#gS)" opacity="0.15"/><circle cx="326.0" cy="250.2" r="2.6" fill="url(#gS)" opacity="0.12"/><polyline points="331.5,221.6 332.4,224.2 331.4,226.8 330.7,229.4 330.4,232.0 331.2,234.6 331.2,237.2 330.8,239.8 329.9,242.4 329.3,245.0 329.5,247.6 330.5,250.2" fill="none" stroke="url(#fR)" stroke-width="2.9" stroke-linecap="round" stroke-linejoin="round" opacity="0.94"/><circle cx="330.9" cy="221.6" r="2.6" fill="url(#gS)" opacity="0.48"/><circle cx="332.9" cy="224.2" r="2.4" fill="url(#gS)" opacity="0.57"/><circle cx="331.5" cy="226.8" r="2.6" fill="url(#gS)" opacity="0.59"/><circle cx="330.3" cy="232.0" r="2.2" fill="url(#gS)" opacity="0.61"/><circle cx="330.7" cy="234.6" r="2.7" fill="url(#gS)" opacity="0.68"/><circle cx="330.7" cy="237.2" r="2.7" fill="url(#gS)" opacity="0.50"/><circle cx="329.1" cy="245.0" r="2.5" fill="url(#gS)" opacity="0.31"/><circle cx="330.3" cy="250.2" r="2.4" fill="url(#gS)" opacity="0.19"/><circle cx="233.8" cy="244.1" r="2.7" fill="url(#gD)" opacity="0.25"/><circle cx="327.7" cy="244.7" r="2.0" fill="url(#gD)" opacity="0.30"/><circle cx="231.4" cy="261.7" r="2.8" fill="url(#gD)" opacity="0.24"/><circle cx="240.6" cy="248.6" r="2.5" fill="url(#gD)" opacity="0.26"/><circle cx="214.9" cy="253.4" r="2.7" fill="url(#gD)" opacity="0.49"/><circle cx="271.7" cy="258.3" r="2.2" fill="url(#gD)" opacity="0.33"/><circle cx="250.5" cy="248.3" r="2.1" fill="url(#gD)" opacity="0.20"/><circle cx="267.0" cy="254.9" r="2.3" fill="url(#gD)" opacity="0.40"/><circle cx="293.7" cy="248.8" r="2.5" fill="url(#gD)" opacity="0.44"/><circle cx="208.7" cy="259.9" r="2.1" fill="url(#gD)" opacity="0.27"/><circle cx="214.3" cy="255.2" r="2.3" fill="url(#gD)" opacity="0.34"/><circle cx="305.4" cy="246.5" r="2.5" fill="url(#gD)" opacity="0.22"/><circle cx="179.7" cy="261.6" r="2.2" fill="url(#gD)" opacity="0.43"/><circle cx="327.8" cy="256.3" r="2.7" fill="url(#gD)" opacity="0.49"/><circle cx="289.7" cy="260.3" r="2.6" fill="url(#gD)" opacity="0.46"/><circle cx="223.1" cy="258.0" r="2.6" fill="url(#gD)" opacity="0.45"/><circle cx="185.7" cy="250.9" r="2.7" fill="url(#gD)" opacity="0.43"/><circle cx="288.0" cy="252.9" r="2.7" fill="url(#gD)" opacity="0.31"/><circle cx="196.9" cy="246.0" r="2.5" fill="url(#gD)" opacity="0.21"/><circle cx="326.0" cy="245.8" r="2.1" fill="url(#gD)" opacity="0.41"/><circle cx="173.9" cy="257.1" r="2.4" fill="url(#gD)" opacity="0.39"/><circle cx="301.0" cy="250.6" r="2.6" fill="url(#gD)" opacity="0.35"/><circle cx="312.4" cy="247.1" r="2.4" fill="url(#gD)" opacity="0.49"/><circle cx="268.6" cy="253.8" r="2.2" fill="url(#gD)" opacity="0.29"/><circle cx="195.6" cy="251.8" r="2.4" fill="url(#gD)" opacity="0.25"/><circle cx="173.3" cy="255.6" r="2.4" fill="url(#gD)" opacity="0.32"/><circle cx="187.1" cy="245.5" r="2.2" fill="url(#gD)" opacity="0.46"/><circle cx="187.5" cy="245.6" r="2.1" fill="url(#gD)" opacity="0.22"/><circle cx="260.8" cy="254.5" r="2.7" fill="url(#gD)" opacity="0.45"/><circle cx="211.6" cy="252.6" r="2.6" fill="url(#gD)" opacity="0.34"/><circle cx="261.0" cy="244.1" r="2.0" fill="url(#gD)" opacity="0.31"/><circle cx="199.5" cy="252.5" r="2.2" fill="url(#gD)" opacity="0.37"/><circle cx="204.4" cy="246.8" r="2.7" fill="url(#gD)" opacity="0.46"/><circle cx="257.3" cy="250.7" r="2.4" fill="url(#gD)" opacity="0.46"/><circle cx="243.0" cy="249.8" r="2.8" fill="url(#gD)" opacity="0.29"/><circle cx="184.3" cy="243.6" r="2.4" fill="url(#gD)" opacity="0.41"/><circle cx="216.3" cy="263.5" r="2.1" fill="url(#gD)" opacity="0.49"/><circle cx="330.8" cy="249.9" r="2.8" fill="url(#gD)" opacity="0.23"/><circle cx="228.7" cy="253.3" r="2.6" fill="url(#gD)" opacity="0.37"/><circle cx="181.4" cy="256.0" r="2.3" fill="url(#gD)" opacity="0.44"/><circle cx="246.7" cy="262.6" r="2.8" fill="url(#gD)" opacity="0.39"/><circle cx="251.4" cy="251.6" r="2.2" fill="url(#gD)" opacity="0.43"/><circle cx="261.7" cy="258.1" r="2.2" fill="url(#gD)" opacity="0.34"/><circle cx="296.0" cy="252.6" r="2.2" fill="url(#gD)" opacity="0.34"/><circle cx="267.9" cy="256.6" r="2.1" fill="url(#gD)" opacity="0.24"/><circle cx="247.7" cy="261.4" r="2.2" fill="url(#gD)" opacity="0.45"/><circle cx="216.6" cy="257.3" r="2.2" fill="url(#gD)" opacity="0.20"/><circle cx="329.8" cy="261.0" r="2.3" fill="url(#gD)" opacity="0.46"/><circle cx="180.4" cy="255.3" r="2.5" fill="url(#gD)" opacity="0.25"/><circle cx="171.7" cy="251.8" r="2.4" fill="url(#gD)" opacity="0.32"/><ellipse cx="310.1" cy="269.0" rx="2.1" ry="2.1" transform="rotate(0 310.1 269.0)" fill="#1e1ef0" fill-opacity="0.80"/><ellipse cx="315.0" cy="266.5" rx="2.1" ry="2.1" transform="rotate(0 315.0 266.5)" fill="#1e1ef0" fill-opacity="0.80"/><ellipse cx="318.6" cy="268.0" rx="2.1" ry="2.1" transform="rotate(0 318.6 268.0)" fill="#1e1ef0" fill-opacity="0.80"/><ellipse cx="322.8" cy="265.6" rx="2.1" ry="2.1" transform="rotate(0 322.8 265.6)" fill="#1e1ef0" fill-opacity="0.80"/><ellipse cx="327.0" cy="266.5" rx="2.1" ry="2.1" transform="rotate(0 327.0 266.5)" fill="#1e1ef0" fill-opacity="0.80"/><ellipse cx="303.5" cy="273.2" rx="4.0" ry="1.8" transform="rotate(15 303.5 273.2)" fill="#1e1ef0" fill-opacity="0.40"/><ellipse cx="299.0" cy="272.0" rx="3.0" ry="1.5" transform="rotate(0 299.0 272.0)" fill="#1e1ef0" fill-opacity="0.32"/><ellipse cx="321.0" cy="285.9" rx="5.0" ry="1.3" transform="rotate(-5 321.0 285.9)" fill="#1e1ef0" fill-opacity="0.72"/><ellipse cx="320.4" cy="290.8" rx="6.0" ry="1.4" transform="rotate(-5 320.4 290.8)" fill="#1e1ef0" fill-opacity="0.76"/><ellipse cx="282.8" cy="280.5" rx="4.5" ry="1.3" transform="rotate(-5 282.8 280.5)" fill="#1e1ef0" fill-opacity="0.56"/><ellipse cx="288.3" cy="294.4" rx="4.0" ry="1.5" transform="rotate(-25 288.3 294.4)" fill="#1e1ef0" fill-opacity="0.72"/><ellipse cx="283.0" cy="294.0" rx="3.0" ry="1.3" transform="rotate(-20 283.0 294.0)" fill="#1e1ef0" fill-opacity="0.56"/><ellipse cx="237.4" cy="266.0" rx="3.0" ry="1.5" transform="rotate(20 237.4 266.0)" fill="#1e1ef0" fill-opacity="0.40"/><ellipse cx="259.2" cy="269.0" rx="4.0" ry="1.6" transform="rotate(-25 259.2 269.0)" fill="#1e1ef0" fill-opacity="0.64"/><ellipse cx="262.9" cy="266.0" rx="2.5" ry="1.5" transform="rotate(0 262.9 266.0)" fill="#1e1ef0" fill-opacity="0.48"/><ellipse cx="227.6" cy="275.8" rx="3.0" ry="1.3" transform="rotate(0 227.6 275.8)" fill="#1e1ef0" fill-opacity="0.32"/><ellipse cx="256.8" cy="286.0" rx="6.0" ry="1.8" transform="rotate(-30 256.8 286.0)" fill="#1e1ef0" fill-opacity="0.68"/><ellipse cx="228.9" cy="291.0" rx="5.0" ry="1.3" transform="rotate(3 228.9 291.0)" fill="#1e1ef0" fill-opacity="0.72"/><ellipse cx="269.5" cy="293.4" rx="6.0" ry="1.3" transform="rotate(-3 269.5 293.4)" fill="#1e1ef0" fill-opacity="0.76"/><ellipse cx="225.0" cy="295.2" rx="2.5" ry="1.5" transform="rotate(0 225.0 295.2)" fill="#1e1ef0" fill-opacity="0.56"/><ellipse cx="277.4" cy="281.2" rx="2.5" ry="1.5" transform="rotate(0 277.4 281.2)" fill="#1e1ef0" fill-opacity="0.48"/><ellipse cx="178.0" cy="275.0" rx="6.0" ry="1.2" transform="rotate(5 178.0 275.0)" fill="#1e1ef0" fill-opacity="0.28"/><ellipse cx="184.0" cy="283.5" rx="7.0" ry="1.3" transform="rotate(12 184.0 283.5)" fill="#1e1ef0" fill-opacity="0.32"/><ellipse cx="214.0" cy="284.0" rx="4.0" ry="1.6" transform="rotate(30 214.0 284.0)" fill="#1e1ef0" fill-opacity="0.52"/><ellipse cx="220.0" cy="295.0" rx="3.0" ry="1.5" transform="rotate(0 220.0 295.0)" fill="#1e1ef0" fill-opacity="0.64"/><ellipse cx="288.6" cy="304.0" rx="5.0" ry="1.4" transform="rotate(8 288.6 304.0)" fill="#1e1ef0" fill-opacity="0.72"/><ellipse cx="283.3" cy="299.3" rx="3.0" ry="1.3" transform="rotate(-10 283.3 299.3)" fill="#1e1ef0" fill-opacity="0.56"/><ellipse cx="304.4" cy="307.2" rx="5.0" ry="1.3" transform="rotate(-5 304.4 307.2)" fill="#1e1ef0" fill-opacity="0.72"/><ellipse cx="287.9" cy="313.6" rx="4.0" ry="1.3" transform="rotate(0 287.9 313.6)" fill="#1e1ef0" fill-opacity="0.40"/><ellipse cx="278.7" cy="321.0" rx="2.0" ry="1.3" transform="rotate(0 278.7 321.0)" fill="#1e1ef0" fill-opacity="0.48"/><ellipse cx="303.8" cy="329.7" rx="5.0" ry="1.3" transform="rotate(-5 303.8 329.7)" fill="#1e1ef0" fill-opacity="0.56"/><ellipse cx="299.8" cy="335.6" rx="5.0" ry="1.4" transform="rotate(-10 299.8 335.6)" fill="#1e1ef0" fill-opacity="0.68"/><ellipse cx="291.2" cy="342.3" rx="4.0" ry="1.4" transform="rotate(-10 291.2 342.3)" fill="#1e1ef0" fill-opacity="0.64"/><ellipse cx="310.0" cy="340.0" rx="3.0" ry="2.0" transform="rotate(0 310.0 340.0)" fill="#1e1ef0" fill-opacity="0.80"/><ellipse cx="316.0" cy="341.0" rx="3.5" ry="2.0" transform="rotate(0 316.0 341.0)" fill="#1e1ef0" fill-opacity="0.80"/><ellipse cx="322.0" cy="340.0" rx="3.0" ry="2.0" transform="rotate(0 322.0 340.0)" fill="#1e1ef0" fill-opacity="0.80"/><ellipse cx="313.0" cy="344.0" rx="3.0" ry="1.5" transform="rotate(0 313.0 344.0)" fill="#1e1ef0" fill-opacity="0.72"/><ellipse cx="330.8" cy="337.0" rx="2.5" ry="2.2" transform="rotate(0 330.8 337.0)" fill="#1e1ef0" fill-opacity="0.80"/><ellipse cx="304.0" cy="343.0" rx="3.0" ry="1.5" transform="rotate(0 304.0 343.0)" fill="#1e1ef0" fill-opacity="0.56"/><ellipse cx="243.0" cy="311.4" rx="6.0" ry="1.6" transform="rotate(25 243.0 311.4)" fill="#1e1ef0" fill-opacity="0.68"/><ellipse cx="253.2" cy="322.8" rx="4.5" ry="1.6" transform="rotate(-25 253.2 322.8)" fill="#1e1ef0" fill-opacity="0.68"/><ellipse cx="273.4" cy="320.9" rx="5.0" ry="1.2" transform="rotate(-3 273.4 320.9)" fill="#1e1ef0" fill-opacity="0.48"/><ellipse cx="227.8" cy="340.6" rx="3.0" ry="1.5" transform="rotate(20 227.8 340.6)" fill="#1e1ef0" fill-opacity="0.40"/><ellipse cx="182.0" cy="312.5" rx="5.0" ry="1.2" transform="rotate(10 182.0 312.5)" fill="#1e1ef0" fill-opacity="0.28"/><ellipse cx="185.0" cy="341.0" rx="4.0" ry="1.8" transform="rotate(-10 185.0 341.0)" fill="#1e1ef0" fill-opacity="0.48"/><ellipse cx="192.0" cy="343.0" rx="3.0" ry="1.5" transform="rotate(0 192.0 343.0)" fill="#1e1ef0" fill-opacity="0.36"/><ellipse cx="200.0" cy="262.0" rx="4.0" ry="1.3" transform="rotate(0 200.0 262.0)" fill="#1e1ef0" fill-opacity="0.24"/><ellipse cx="250.0" cy="262.0" rx="4.0" ry="1.3" transform="rotate(0 250.0 262.0)" fill="#1e1ef0" fill-opacity="0.28"/><ellipse cx="286.0" cy="259.0" rx="2.0" ry="1.8" transform="rotate(0 286.0 259.0)" fill="#1e1ef0" fill-opacity="0.40"/><ellipse cx="293.0" cy="261.0" rx="2.0" ry="1.8" transform="rotate(0 293.0 261.0)" fill="#1e1ef0" fill-opacity="0.32"/></g></g>
<rect x="170.6" y="223.0" width="162.50000000000003" height="1" fill="#8a8aff" fill-opacity="0.6"/>
<text x="144.6" y="281.8" font-size="9.45" fill="#fff" font-family="Liberation Sans, sans-serif" font-weight="bold">IHC</text>
<text x="142.4" y="310.9" font-size="9.6" fill="#fff" font-family="Liberation Sans, sans-serif" font-weight="bold">OHC</text>
<text x="311.3" y="281.8" font-size="9.9" fill="#fff" font-family="Liberation Sans, sans-serif" font-weight="bold">IHC</text>
<text x="309" y="310.5" font-size="9.6" fill="#fff" font-family="Liberation Sans, sans-serif" font-weight="bold">OHC</text>
<text x="175.2" y="335.1" font-size="9.9" font-family="Liberation Sans, sans-serif" font-weight="bold"><tspan fill="#e01020">Myo7a</tspan><tspan fill="#fff">/</tspan><tspan fill="#2a2af0">Hoech</tspan></text>
<text x="2.6" y="12.2" font-size="16" font-weight="bold" text-anchor="start" fill="#000" font-family="Liberation Serif, serif" >a</text>
<text x="354.4" y="14.5" font-size="16" font-weight="bold" text-anchor="start" fill="#000" font-family="Liberation Serif, serif" >b</text>
<text x="2.6" y="202.5" font-size="16" font-weight="bold" text-anchor="start" fill="#000" font-family="Liberation Serif, serif" >c</text>
<text x="343.8" y="204.5" font-size="16" font-weight="bold" text-anchor="start" fill="#000" font-family="Liberation Serif, serif" >d</text>
<line x1="36.4" y1="34.4" x2="36.4" y2="153.6" stroke="#111" stroke-width="1.4" />
<line x1="35.699999999999996" y1="153.0" x2="203.3" y2="153.0" stroke="#111" stroke-width="1.4" />
<line x1="31" y1="153.0" x2="36.4" y2="153.0" stroke="#111" stroke-width="1.2" />
<text x="29.9" y="155.8" font-size="7.9" font-weight="bold" text-anchor="end" fill="#111" font-family="Liberation Sans, sans-serif" >0</text>
<line x1="31" y1="129.4" x2="36.4" y2="129.4" stroke="#111" stroke-width="1.2" />
<text x="29.9" y="132.2" font-size="7.9" font-weight="bold" text-anchor="end" fill="#111" font-family="Liberation Sans, sans-serif" >20</text>
<line x1="31" y1="105.8" x2="36.4" y2="105.8" stroke="#111" stroke-width="1.2" />
<text x="29.9" y="108.6" font-size="7.9" font-weight="bold" text-anchor="end" fill="#111" font-family="Liberation Sans, sans-serif" >40</text>
<line x1="31" y1="82.2" x2="36.4" y2="82.2" stroke="#111" stroke-width="1.2" />
<text x="29.9" y="85.0" font-size="7.9" font-weight="bold" text-anchor="end" fill="#111" font-family="Liberation Sans, sans-serif" >60</text>
<line x1="31" y1="58.599999999999994" x2="36.4" y2="58.599999999999994" stroke="#111" stroke-width="1.2" />
<text x="29.9" y="61.4" font-size="7.9" font-weight="bold" text-anchor="end" fill="#111" font-family="Liberation Sans, sans-serif" >80</text>
<line x1="31" y1="35.0" x2="36.4" y2="35.0" stroke="#111" stroke-width="1.2" />
<text x="29.9" y="37.8" font-size="7.9" font-weight="bold" text-anchor="end" fill="#111" font-family="Liberation Sans, sans-serif" >100</text>
<line x1="62.1" y1="153.0" x2="62.1" y2="157.8" stroke="#111" stroke-width="1.2" />
<text x="62.1" y="166.6" font-size="8.2" font-weight="bold" text-anchor="middle" fill="#111" font-family="Liberation Sans, sans-serif" >4</text>
<line x1="100.5" y1="153.0" x2="100.5" y2="157.8" stroke="#111" stroke-width="1.2" />
<text x="100.5" y="166.6" font-size="8.2" font-weight="bold" text-anchor="middle" fill="#111" font-family="Liberation Sans, sans-serif" >8</text>
<line x1="138.9" y1="153.0" x2="138.9" y2="157.8" stroke="#111" stroke-width="1.2" />
<text x="138.9" y="166.6" font-size="8.2" font-weight="bold" text-anchor="middle" fill="#111" font-family="Liberation Sans, sans-serif" >16</text>
<line x1="177.3" y1="153.0" x2="177.3" y2="157.8" stroke="#111" stroke-width="1.2" />
<text x="177.3" y="166.6" font-size="8.2" font-weight="bold" text-anchor="middle" fill="#111" font-family="Liberation Sans, sans-serif" >32</text>
<text x="119.7" y="178.1" font-size="9.0" font-weight="bold" text-anchor="middle" fill="#111" font-family="Liberation Sans, sans-serif" >Frequency (kHz)</text>
<text transform="translate(10.4,93.4) rotate(-90)" font-size="9.25" font-weight="bold" text-anchor="middle" fill="#111" font-family="Liberation Sans, sans-serif" xml:space="preserve">ABR Threshold  (dB SPL)</text>
<line x1="62.1" y1="43.85" x2="62.1" y2="55.65" stroke="#f55" stroke-width="1.0" />
<line x1="60.4" y1="43.85" x2="63.800000000000004" y2="43.85" stroke="#f55" stroke-width="1.0" />
<line x1="60.4" y1="55.65" x2="63.800000000000004" y2="55.65" stroke="#f55" stroke-width="1.0" />
<line x1="100.5" y1="42.67" x2="100.5" y2="68.63" stroke="#f55" stroke-width="1.0" />
<line x1="98.8" y1="42.67" x2="102.2" y2="42.67" stroke="#f55" stroke-width="1.0" />
<line x1="98.8" y1="68.63" x2="102.2" y2="68.63" stroke="#f55" stroke-width="1.0" />
<line x1="138.9" y1="53.29" x2="138.9" y2="78.07" stroke="#f55" stroke-width="1.0" />
<line x1="137.20000000000002" y1="53.29" x2="140.6" y2="53.29" stroke="#f55" stroke-width="1.0" />
<line x1="137.20000000000002" y1="78.07" x2="140.6" y2="78.07" stroke="#f55" stroke-width="1.0" />
<line x1="177.3" y1="42.08" x2="177.3" y2="63.32" stroke="#f55" stroke-width="1.0" />
<line x1="175.60000000000002" y1="42.08" x2="179.0" y2="42.08" stroke="#f55" stroke-width="1.0" />
<line x1="175.60000000000002" y1="63.32" x2="179.0" y2="63.32" stroke="#f55" stroke-width="1.0" />
<polyline points="62.1,49.75 100.5,55.65 138.9,65.68 177.3,52.7" fill="none" stroke="#ec1c2c" stroke-width="1.5"/>
<rect x="60.2" y="47.85" width="3.8" height="3.8" fill="#ec1c2c"/>
<rect x="98.6" y="53.75" width="3.8" height="3.8" fill="#ec1c2c"/>
<rect x="137.0" y="63.78" width="3.8" height="3.8" fill="#ec1c2c"/>
<rect x="175.4" y="50.8" width="3.8" height="3.8" fill="#ec1c2c"/>
<line x1="62.1" y1="79.96" x2="62.1" y2="86.68" stroke="#555" stroke-width="0.9" />
<line x1="60.4" y1="79.96" x2="63.800000000000004" y2="79.96" stroke="#555" stroke-width="0.9" />
<line x1="60.4" y1="86.68" x2="63.800000000000004" y2="86.68" stroke="#555" stroke-width="0.9" />
<line x1="100.5" y1="124.68" x2="100.5" y2="127.04" stroke="#555" stroke-width="0.9" />
<line x1="98.8" y1="124.68" x2="102.2" y2="124.68" stroke="#555" stroke-width="0.9" />
<line x1="98.8" y1="127.04" x2="102.2" y2="127.04" stroke="#555" stroke-width="0.9" />
<line x1="138.9" y1="119.49" x2="138.9" y2="123.97" stroke="#555" stroke-width="0.9" />
<line x1="137.20000000000002" y1="119.49" x2="140.6" y2="119.49" stroke="#555" stroke-width="0.9" />
<line x1="137.20000000000002" y1="123.97" x2="140.6" y2="123.97" stroke="#555" stroke-width="0.9" />
<line x1="177.3" y1="117.48" x2="177.3" y2="121.26" stroke="#555" stroke-width="0.9" />
<line x1="175.60000000000002" y1="117.48" x2="179.0" y2="117.48" stroke="#555" stroke-width="0.9" />
<line x1="175.60000000000002" y1="121.26" x2="179.0" y2="121.26" stroke="#555" stroke-width="0.9" />
<polyline points="62.1,83.38 100.5,125.86 138.9,121.73 177.3,119.37" fill="none" stroke="#111" stroke-width="1.4"/>
<circle cx="62.1" cy="83.38" r="1.8" fill="#111"/>
<circle cx="100.5" cy="125.86" r="1.8" fill="#111"/>
<circle cx="138.9" cy="121.73" r="1.8" fill="#111"/>
<circle cx="177.3" cy="119.37" r="1.8" fill="#111"/>
<line x1="54.9" y1="12.5" x2="54.9" y2="18.5" stroke="#0a0a0a" stroke-width="1.3" />
<line x1="52.3" y1="14.0" x2="57.5" y2="17.0" stroke="#0a0a0a" stroke-width="1.3" />
<line x1="57.5" y1="14.0" x2="52.3" y2="17.0" stroke="#0a0a0a" stroke-width="1.3" />
<line x1="62.3" y1="12.5" x2="62.3" y2="18.5" stroke="#0a0a0a" stroke-width="1.3" />
<line x1="59.7" y1="14.0" x2="64.9" y2="17.0" stroke="#0a0a0a" stroke-width="1.3" />
<line x1="64.9" y1="14.0" x2="59.7" y2="17.0" stroke="#0a0a0a" stroke-width="1.3" />
<line x1="69.7" y1="12.5" x2="69.7" y2="18.5" stroke="#0a0a0a" stroke-width="1.3" />
<line x1="67.1" y1="14.0" x2="72.3" y2="17.0" stroke="#0a0a0a" stroke-width="1.3" />
<line x1="72.3" y1="14.0" x2="67.1" y2="17.0" stroke="#0a0a0a" stroke-width="1.3" />
<line x1="89.9" y1="15.9" x2="89.9" y2="21.9" stroke="#0a0a0a" stroke-width="1.3" />
<line x1="87.3" y1="17.4" x2="92.5" y2="20.4" stroke="#0a0a0a" stroke-width="1.3" />
<line x1="92.5" y1="17.4" x2="87.3" y2="20.4" stroke="#0a0a0a" stroke-width="1.3" />
<line x1="96.8" y1="15.9" x2="96.8" y2="21.9" stroke="#0a0a0a" stroke-width="1.3" />
<line x1="94.2" y1="17.4" x2="99.4" y2="20.4" stroke="#0a0a0a" stroke-width="1.3" />
<line x1="99.4" y1="17.4" x2="94.2" y2="20.4" stroke="#0a0a0a" stroke-width="1.3" />
<line x1="103.7" y1="15.9" x2="103.7" y2="21.9" stroke="#0a0a0a" stroke-width="1.3" />
<line x1="101.1" y1="17.4" x2="106.3" y2="20.4" stroke="#0a0a0a" stroke-width="1.3" />
<line x1="106.3" y1="17.4" x2="101.1" y2="20.4" stroke="#0a0a0a" stroke-width="1.3" />
<line x1="110.6" y1="15.9" x2="110.6" y2="21.9" stroke="#0a0a0a" stroke-width="1.3" />
<line x1="108.0" y1="17.4" x2="113.2" y2="20.4" stroke="#0a0a0a" stroke-width="1.3" />
<line x1="113.2" y1="17.4" x2="108.0" y2="20.4" stroke="#0a0a0a" stroke-width="1.3" />
<line x1="131.3" y1="24.6" x2="131.3" y2="30.6" stroke="#0a0a0a" stroke-width="1.3" />
<line x1="128.7" y1="26.1" x2="133.9" y2="29.1" stroke="#0a0a0a" stroke-width="1.3" />
<line x1="133.9" y1="26.1" x2="128.7" y2="29.1" stroke="#0a0a0a" stroke-width="1.3" />
<line x1="138.5" y1="24.6" x2="138.5" y2="30.6" stroke="#0a0a0a" stroke-width="1.3" />
<line x1="135.9" y1="26.1" x2="141.1" y2="29.1" stroke="#0a0a0a" stroke-width="1.3" />
<line x1="141.1" y1="26.1" x2="135.9" y2="29.1" stroke="#0a0a0a" stroke-width="1.3" />
<line x1="145.8" y1="24.6" x2="145.8" y2="30.6" stroke="#0a0a0a" stroke-width="1.3" />
<line x1="143.2" y1="26.1" x2="148.4" y2="29.1" stroke="#0a0a0a" stroke-width="1.3" />
<line x1="148.4" y1="26.1" x2="143.2" y2="29.1" stroke="#0a0a0a" stroke-width="1.3" />
<line x1="167.9" y1="15.7" x2="167.9" y2="21.7" stroke="#0a0a0a" stroke-width="1.3" />
<line x1="165.3" y1="17.2" x2="170.5" y2="20.2" stroke="#0a0a0a" stroke-width="1.3" />
<line x1="170.5" y1="17.2" x2="165.3" y2="20.2" stroke="#0a0a0a" stroke-width="1.3" />
<line x1="174.8" y1="15.7" x2="174.8" y2="21.7" stroke="#0a0a0a" stroke-width="1.3" />
<line x1="172.2" y1="17.2" x2="177.4" y2="20.2" stroke="#0a0a0a" stroke-width="1.3" />
<line x1="177.4" y1="17.2" x2="172.2" y2="20.2" stroke="#0a0a0a" stroke-width="1.3" />
<line x1="181.6" y1="15.7" x2="181.6" y2="21.7" stroke="#0a0a0a" stroke-width="1.3" />
<line x1="179.0" y1="17.2" x2="184.2" y2="20.2" stroke="#0a0a0a" stroke-width="1.3" />
<line x1="184.2" y1="17.2" x2="179.0" y2="20.2" stroke="#0a0a0a" stroke-width="1.3" />
<line x1="188.5" y1="15.7" x2="188.5" y2="21.7" stroke="#0a0a0a" stroke-width="1.3" />
<line x1="185.9" y1="17.2" x2="191.1" y2="20.2" stroke="#0a0a0a" stroke-width="1.3" />
<line x1="191.1" y1="17.2" x2="185.9" y2="20.2" stroke="#0a0a0a" stroke-width="1.3" />
<line x1="204.7" y1="70.9" x2="216.9" y2="70.9" stroke="#111" stroke-width="1.5" />
<circle cx="210.8" cy="70.9" r="1.9" fill="#111"/>
<text x="223.6" y="73.9" font-size="9.28"  text-anchor="start" fill="#262626" font-family="Liberation Sans, sans-serif" >Non-surgery control (n=7)</text>
<line x1="204.7" y1="95.3" x2="216.9" y2="95.3" stroke="#ec1c2c" stroke-width="1.5" />
<circle cx="210.8" cy="95.3" r="2.0" fill="#ec1c2c"/>
<text x="223.6" y="98.2" font-size="9.28"  text-anchor="start" fill="#262626" font-family="Liberation Sans, sans-serif" >1 µl injection in 30 sec (n=4)</text>
<line x1="407.6" y1="18.0" x2="407.6" y2="154.4" stroke="#111" stroke-width="1.5" />
<line x1="406.90000000000003" y1="153.8" x2="602.5" y2="153.8" stroke="#111" stroke-width="1.5" />
<line x1="402.2" y1="153.8" x2="407.6" y2="153.8" stroke="#111" stroke-width="1.3" />
<text x="400.2" y="157.0" font-size="9.1" font-weight="bold" text-anchor="end" fill="#111" font-family="Liberation Sans, sans-serif" >0</text>
<line x1="402.2" y1="126.76" x2="407.6" y2="126.76" stroke="#111" stroke-width="1.3" />
<text x="400.2" y="129.96" font-size="9.1" font-weight="bold" text-anchor="end" fill="#111" font-family="Liberation Sans, sans-serif" >20</text>
<line x1="402.2" y1="99.72" x2="407.6" y2="99.72" stroke="#111" stroke-width="1.3" />
<text x="400.2" y="102.92" font-size="9.1" font-weight="bold" text-anchor="end" fill="#111" font-family="Liberation Sans, sans-serif" >40</text>
<line x1="402.2" y1="72.68" x2="407.6" y2="72.68" stroke="#111" stroke-width="1.3" />
<text x="400.2" y="75.88" font-size="9.1" font-weight="bold" text-anchor="end" fill="#111" font-family="Liberation Sans, sans-serif" >60</text>
<line x1="402.2" y1="45.639999999999986" x2="407.6" y2="45.639999999999986" stroke="#111" stroke-width="1.3" />
<text x="400.2" y="48.84" font-size="9.1" font-weight="bold" text-anchor="end" fill="#111" font-family="Liberation Sans, sans-serif" >80</text>
<line x1="402.2" y1="18.599999999999994" x2="407.6" y2="18.599999999999994" stroke="#111" stroke-width="1.3" />
<text x="400.2" y="21.8" font-size="9.1" font-weight="bold" text-anchor="end" fill="#111" font-family="Liberation Sans, sans-serif" >100</text>
<line x1="437.2" y1="153.8" x2="437.2" y2="159.4" stroke="#111" stroke-width="1.3" />
<text x="437.2" y="170.3" font-size="10.1" font-weight="bold" text-anchor="middle" fill="#111" font-family="Liberation Sans, sans-serif" >Apical</text>
<line x1="504.7" y1="153.8" x2="504.7" y2="159.4" stroke="#111" stroke-width="1.3" />
<text x="504.7" y="170.3" font-size="10.1" font-weight="bold" text-anchor="middle" fill="#111" font-family="Liberation Sans, sans-serif" >Middle</text>
<line x1="572.7" y1="153.8" x2="572.7" y2="159.4" stroke="#111" stroke-width="1.3" />
<text x="572.7" y="170.3" font-size="10.1" font-weight="bold" text-anchor="middle" fill="#111" font-family="Liberation Sans, sans-serif" >Basal</text>
<text x="505.6" y="187.4" font-size="10.9" font-weight="bold" text-anchor="middle" fill="#111" font-family="Liberation Sans, sans-serif" >Cochlear turn</text>
<text transform="translate(378.4,85.8) rotate(-90)" font-size="11.1" font-weight="bold" text-anchor="middle" fill="#111" font-family="Liberation Sans, sans-serif">HC loss (%)</text>
<defs>
<pattern id="pI" width="5.4" height="5.4" patternUnits="userSpaceOnUse"><rect width="5.4" height="5.4" fill="#f6f6f6"/><rect x="0.6" y="0.6" width="1.1" height="1.1" fill="#9a9a9a"/><rect x="3.3" y="0.6" width="1.1" height="1.1" fill="#9a9a9a"/><rect x="1.95" y="3.3" width="1.1" height="1.1" fill="#a4a4a4"/><rect x="4.65" y="3.3" width="1.1" height="1.1" fill="#a4a4a4"/></pattern>
<pattern id="pO" width="2" height="2" patternUnits="userSpaceOnUse"><rect width="2" height="2" fill="#cccccc"/><rect width="1" height="1" fill="#4e4e4e"/><rect x="1" y="1" width="1" height="1" fill="#4e4e4e"/></pattern>
</defs>
<line x1="425.2" y1="55.92" x2="425.2" y2="79.98" stroke="#777" stroke-width="1.1" />
<line x1="421.2" y1="55.92" x2="429.2" y2="55.92" stroke="#777" stroke-width="1.1" />
<rect x="418.2" y="80.98" width="14.0" height="72.82" fill="url(#pI)" stroke="#000" stroke-width="2"/>
<line x1="450.35" y1="52.26" x2="450.35" y2="74.3" stroke="#777" stroke-width="1.1" />
<line x1="446.35" y1="52.26" x2="454.35" y2="52.26" stroke="#777" stroke-width="1.1" />
<rect x="443.2" y="75.3" width="14.3" height="78.5" fill="url(#pO)" stroke="#000" stroke-width="2"/>
<line x1="492.35" y1="59.97" x2="492.35" y2="85.39" stroke="#777" stroke-width="1.1" />
<line x1="488.35" y1="59.97" x2="496.35" y2="59.97" stroke="#777" stroke-width="1.1" />
<rect x="485.2" y="86.39" width="14.3" height="67.41" fill="url(#pI)" stroke="#000" stroke-width="2"/>
<line x1="517.5" y1="59.02" x2="517.5" y2="84.31" stroke="#777" stroke-width="1.1" />
<line x1="513.5" y1="59.02" x2="521.5" y2="59.02" stroke="#777" stroke-width="1.1" />
<rect x="510.4" y="85.31" width="14.2" height="68.49" fill="url(#pO)" stroke="#000" stroke-width="2"/>
<rect x="553.2" y="19.6" width="14.5" height="134.2" fill="url(#pI)" stroke="#000" stroke-width="2"/>
<rect x="578.4" y="19.6" width="14.5" height="134.2" fill="url(#pO)" stroke="#000" stroke-width="2"/>
<rect x="443.9" y="4.85" width="12.9" height="3.8" fill="url(#pI)" stroke="#000" stroke-width="2"/>
<text x="465.8" y="10.1" font-size="11"  text-anchor="start" fill="#333" font-family="Liberation Sans, sans-serif" >IHC</text>
<rect x="504" y="4.85" width="12.3" height="3.8" fill="url(#pO)" stroke="#000" stroke-width="2"/>
<text x="525.5" y="10.1" font-size="11"  text-anchor="start" fill="#333" font-family="Liberation Sans, sans-serif" >OHC</text>
<line x1="379.7" y1="219.3" x2="379.7" y2="342.8" stroke="#111" stroke-width="1.4" />
<line x1="379.0" y1="342.2" x2="551.6" y2="342.2" stroke="#111" stroke-width="1.4" />
<line x1="374.6" y1="342.2" x2="379.7" y2="342.2" stroke="#111" stroke-width="1.2" />
<text x="372.9" y="345.0" font-size="7.9" font-weight="bold" text-anchor="end" fill="#111" font-family="Liberation Sans, sans-serif" >0</text>
<line x1="374.6" y1="317.74" x2="379.7" y2="317.74" stroke="#111" stroke-width="1.2" />
<text x="372.9" y="320.54" font-size="7.9" font-weight="bold" text-anchor="end" fill="#111" font-family="Liberation Sans, sans-serif" >20</text>
<line x1="374.6" y1="293.28" x2="379.7" y2="293.28" stroke="#111" stroke-width="1.2" />
<text x="372.9" y="296.08" font-size="7.9" font-weight="bold" text-anchor="end" fill="#111" font-family="Liberation Sans, sans-serif" >40</text>
<line x1="374.6" y1="268.82" x2="379.7" y2="268.82" stroke="#111" stroke-width="1.2" />
<text x="372.9" y="271.62" font-size="7.9" font-weight="bold" text-anchor="end" fill="#111" font-family="Liberation Sans, sans-serif" >60</text>
<line x1="374.6" y1="244.36" x2="379.7" y2="244.36" stroke="#111" stroke-width="1.2" />
<text x="372.9" y="247.16" font-size="7.9" font-weight="bold" text-anchor="end" fill="#111" font-family="Liberation Sans, sans-serif" >80</text>
<line x1="374.6" y1="219.9" x2="379.7" y2="219.9" stroke="#111" stroke-width="1.2" />
<text x="372.9" y="222.7" font-size="7.9" font-weight="bold" text-anchor="end" fill="#111" font-family="Liberation Sans, sans-serif" >100</text>
<line x1="405.8" y1="342.2" x2="405.8" y2="347" stroke="#111" stroke-width="1.2" />
<text x="405.8" y="356.3" font-size="8.2" font-weight="bold" text-anchor="middle" fill="#111" font-family="Liberation Sans, sans-serif" >4</text>
<line x1="445.3" y1="342.2" x2="445.3" y2="347" stroke="#111" stroke-width="1.2" />
<text x="445.3" y="356.3" font-size="8.2" font-weight="bold" text-anchor="middle" fill="#111" font-family="Liberation Sans, sans-serif" >8</text>
<line x1="484.8" y1="342.2" x2="484.8" y2="347" stroke="#111" stroke-width="1.2" />
<text x="484.8" y="356.3" font-size="8.2" font-weight="bold" text-anchor="middle" fill="#111" font-family="Liberation Sans, sans-serif" >16</text>
<line x1="524.2" y1="342.2" x2="524.2" y2="347" stroke="#111" stroke-width="1.2" />
<text x="524.2" y="356.3" font-size="8.2" font-weight="bold" text-anchor="middle" fill="#111" font-family="Liberation Sans, sans-serif" >32</text>
<text x="465.3" y="367.0" font-size="9.5" font-weight="bold" text-anchor="middle" fill="#111" font-family="Liberation Sans, sans-serif" >Frequency (kHz)</text>
<text transform="translate(354.6,281.3) rotate(-90)" font-size="9.37" font-weight="bold" text-anchor="middle" fill="#111" font-family="Liberation Sans, sans-serif" xml:space="preserve">ABR Threshold  (dB SPL)</text>
<line x1="405.8" y1="239.59" x2="405.8" y2="260.26" stroke="#f66" stroke-width="0.9" />
<line x1="403.6" y1="239.59" x2="408.0" y2="239.59" stroke="#f66" stroke-width="0.9" />
<line x1="403.6" y1="260.26" x2="408.0" y2="260.26" stroke="#f66" stroke-width="0.9" />
<line x1="445.3" y1="255.61" x2="445.3" y2="284.72" stroke="#f66" stroke-width="0.9" />
<line x1="443.1" y1="255.61" x2="447.5" y2="255.61" stroke="#f66" stroke-width="0.9" />
<line x1="443.1" y1="284.72" x2="447.5" y2="284.72" stroke="#f66" stroke-width="0.9" />
<line x1="484.8" y1="260.01" x2="484.8" y2="292.67" stroke="#f66" stroke-width="0.9" />
<line x1="482.6" y1="260.01" x2="487.0" y2="260.01" stroke="#f66" stroke-width="0.9" />
<line x1="482.6" y1="292.67" x2="487.0" y2="292.67" stroke="#f66" stroke-width="0.9" />
<line x1="524.2" y1="260.01" x2="524.2" y2="292.18" stroke="#f66" stroke-width="0.9" />
<line x1="522.0" y1="260.01" x2="526.4000000000001" y2="260.01" stroke="#f66" stroke-width="0.9" />
<line x1="522.0" y1="292.18" x2="526.4000000000001" y2="292.18" stroke="#f66" stroke-width="0.9" />
<polyline points="405.8,250.11 445.3,269.68 484.8,276.16 524.2,276.16" fill="none" stroke="#ec1c2c" stroke-width="1.4"/>
<path d="M405.8,252.27 L407.78000000000003,248.67 L403.82,248.67Z" fill="#ec1c2c"/>
<path d="M445.3,271.84 L447.28000000000003,268.24 L443.32,268.24Z" fill="#ec1c2c"/>
<path d="M484.8,278.32 L486.78000000000003,274.72 L482.82,274.72Z" fill="#ec1c2c"/>
<path d="M524.2,278.32 L526.1800000000001,274.72 L522.22,274.72Z" fill="#ec1c2c"/>
<line x1="405.8" y1="266.37" x2="405.8" y2="283.5" stroke="#55f" stroke-width="0.9" />
<line x1="403.6" y1="266.37" x2="408.0" y2="266.37" stroke="#55f" stroke-width="0.9" />
<line x1="403.6" y1="283.5" x2="408.0" y2="283.5" stroke="#55f" stroke-width="0.9" />
<line x1="445.3" y1="295.11" x2="445.3" y2="311.62" stroke="#55f" stroke-width="0.9" />
<line x1="443.1" y1="295.11" x2="447.5" y2="295.11" stroke="#55f" stroke-width="0.9" />
<line x1="443.1" y1="311.62" x2="447.5" y2="311.62" stroke="#55f" stroke-width="0.9" />
<line x1="484.8" y1="305.51" x2="484.8" y2="312.85" stroke="#55f" stroke-width="0.9" />
<line x1="482.6" y1="305.51" x2="487.0" y2="305.51" stroke="#55f" stroke-width="0.9" />
<line x1="482.6" y1="312.85" x2="487.0" y2="312.85" stroke="#55f" stroke-width="0.9" />
<line x1="524.2" y1="289.61" x2="524.2" y2="307.96" stroke="#55f" stroke-width="0.9" />
<line x1="522.0" y1="289.61" x2="526.4000000000001" y2="289.61" stroke="#55f" stroke-width="0.9" />
<line x1="522.0" y1="307.96" x2="526.4000000000001" y2="307.96" stroke="#55f" stroke-width="0.9" />
<polyline points="405.8,274.94 445.3,305.75 484.8,311.26 524.2,300.01" fill="none" stroke="#1414f0" stroke-width="1.4"/>
<path d="M405.8,272.77 L407.78000000000003,276.38 L403.82,276.38Z" fill="#1414f0"/>
<path d="M445.3,303.59 L447.28000000000003,307.19 L443.32,307.19Z" fill="#1414f0"/>
<path d="M484.8,309.1 L486.78000000000003,312.7 L482.82,312.7Z" fill="#1414f0"/>
<path d="M524.2,297.85 L526.1800000000001,301.45 L522.22,301.45Z" fill="#1414f0"/>
<line x1="405.8" y1="272.49" x2="405.8" y2="277.38" stroke="#1ec81e" stroke-width="0.9" />
<line x1="403.8" y1="272.49" x2="407.8" y2="272.49" stroke="#1ec81e" stroke-width="0.9" />
<line x1="403.8" y1="277.38" x2="407.8" y2="277.38" stroke="#1ec81e" stroke-width="0.9" />
<line x1="445.3" y1="308.57" x2="445.3" y2="312.85" stroke="#1ec81e" stroke-width="0.9" />
<line x1="443.3" y1="308.57" x2="447.3" y2="308.57" stroke="#1ec81e" stroke-width="0.9" />
<line x1="443.3" y1="312.85" x2="447.3" y2="312.85" stroke="#1ec81e" stroke-width="0.9" />
<line x1="484.8" y1="316.52" x2="484.8" y2="318.96" stroke="#1ec81e" stroke-width="0.9" />
<line x1="482.8" y1="316.52" x2="486.8" y2="316.52" stroke="#1ec81e" stroke-width="0.9" />
<line x1="482.8" y1="318.96" x2="486.8" y2="318.96" stroke="#1ec81e" stroke-width="0.9" />
<line x1="524.2" y1="311.62" x2="524.2" y2="315.29" stroke="#1ec81e" stroke-width="0.9" />
<line x1="522.2" y1="311.62" x2="526.2" y2="311.62" stroke="#1ec81e" stroke-width="0.9" />
<line x1="522.2" y1="315.29" x2="526.2" y2="315.29" stroke="#1ec81e" stroke-width="0.9" />
<polyline points="405.8,274.81 445.3,310.77 484.8,317.74 524.2,313.46" fill="none" stroke="#1ec81e" stroke-width="1.4"/>
<rect x="403.90000000000003" y="272.91" width="3.8" height="3.8" fill="#1ec81e"/>
<rect x="443.40000000000003" y="308.87" width="3.8" height="3.8" fill="#1ec81e"/>
<rect x="482.90000000000003" y="315.84" width="3.8" height="3.8" fill="#1ec81e"/>
<rect x="522.3000000000001" y="311.56" width="3.8" height="3.8" fill="#1ec81e"/>
<line x1="405.8" y1="267.6" x2="405.8" y2="272.49" stroke="#111" stroke-width="0.9" />
<line x1="403.8" y1="267.6" x2="407.8" y2="267.6" stroke="#111" stroke-width="0.9" />
<line x1="403.8" y1="272.49" x2="407.8" y2="272.49" stroke="#111" stroke-width="0.9" />
<line x1="445.3" y1="312.24" x2="445.3" y2="315.29" stroke="#111" stroke-width="0.9" />
<line x1="443.3" y1="312.24" x2="447.3" y2="312.24" stroke="#111" stroke-width="0.9" />
<line x1="443.3" y1="315.29" x2="447.3" y2="315.29" stroke="#111" stroke-width="0.9" />
<line x1="484.8" y1="307.96" x2="484.8" y2="311.62" stroke="#111" stroke-width="0.9" />
<line x1="482.8" y1="307.96" x2="486.8" y2="307.96" stroke="#111" stroke-width="0.9" />
<line x1="482.8" y1="311.62" x2="486.8" y2="311.62" stroke="#111" stroke-width="0.9" />
<line x1="524.2" y1="305.51" x2="524.2" y2="309.18" stroke="#111" stroke-width="0.9" />
<line x1="522.2" y1="305.51" x2="526.2" y2="305.51" stroke="#111" stroke-width="0.9" />
<line x1="522.2" y1="309.18" x2="526.2" y2="309.18" stroke="#111" stroke-width="0.9" />
<polyline points="405.8,270.17 445.3,313.7 484.8,310.04 524.2,307.34" fill="none" stroke="#111" stroke-width="1.4"/>
<circle cx="405.8" cy="270.17" r="1.9" fill="#111"/>
<circle cx="445.3" cy="313.7" r="1.9" fill="#111"/>
<circle cx="484.8" cy="310.04" r="1.9" fill="#111"/>
<circle cx="524.2" cy="307.34" r="1.9" fill="#111"/>
<line x1="441.0" y1="234.1" x2="441.0" y2="240.1" stroke="#0a0a0a" stroke-width="1.3" />
<line x1="438.4" y1="235.6" x2="443.6" y2="238.6" stroke="#0a0a0a" stroke-width="1.3" />
<line x1="443.6" y1="235.6" x2="438.4" y2="238.6" stroke="#0a0a0a" stroke-width="1.3" />
<line x1="448.8" y1="234.1" x2="448.8" y2="240.1" stroke="#0a0a0a" stroke-width="1.3" />
<line x1="446.2" y1="235.6" x2="451.4" y2="238.6" stroke="#0a0a0a" stroke-width="1.3" />
<line x1="451.4" y1="235.6" x2="446.2" y2="238.6" stroke="#0a0a0a" stroke-width="1.3" />
<line x1="484.6" y1="241.3" x2="484.6" y2="247.3" stroke="#0a0a0a" stroke-width="1.3" />
<line x1="482.0" y1="242.8" x2="487.2" y2="245.8" stroke="#0a0a0a" stroke-width="1.3" />
<line x1="487.2" y1="242.8" x2="482.0" y2="245.8" stroke="#0a0a0a" stroke-width="1.3" />
<line x1="524.2" y1="241.8" x2="524.2" y2="247.8" stroke="#0a0a0a" stroke-width="1.3" />
<line x1="521.6" y1="243.3" x2="526.8" y2="246.3" stroke="#0a0a0a" stroke-width="1.3" />
<line x1="526.8" y1="243.3" x2="521.6" y2="246.3" stroke="#0a0a0a" stroke-width="1.3" />
<line x1="556.9" y1="231.2" x2="569.0" y2="231.2" stroke="#111" stroke-width="1.3" />
<circle cx="562.9" cy="231.2" r="1.6" fill="#111"/>
<text x="575.6" y="234.2" font-size="9.45"  text-anchor="start" fill="#262626" font-family="Liberation Sans, sans-serif" >Non-surgery control (n=7)</text>
<line x1="556.9" y1="259.5" x2="569.0" y2="259.5" stroke="#1ec81e" stroke-width="1.3" />
<rect x="561.1999999999999" y="257.8" width="3.4" height="3.4" fill="#1ec81e"/>
<text x="575.6" y="257.4" font-size="9.4"  text-anchor="start" fill="#262626" font-family="Liberation Sans, sans-serif" >72 injections of 13.8</text>
<text x="575.6" y="267.2" font-size="9.4"  text-anchor="start" fill="#262626" font-family="Liberation Sans, sans-serif" xml:space="preserve">nl per injection  (n=4)</text>
<line x1="556.9" y1="290.3" x2="569.0" y2="290.3" stroke="#1414f0" stroke-width="1.4" />
<circle cx="562.9" cy="290.2" r="1.8" fill="#1414f0"/>
<text x="575.6" y="287.9" font-size="9.4"  text-anchor="start" fill="#262626" font-family="Liberation Sans, sans-serif" >36 injections of 27.6</text>
<text x="575.6" y="298.3" font-size="9.4"  text-anchor="start" fill="#262626" font-family="Liberation Sans, sans-serif" >nl per injection (n=4)</text>
<line x1="556.9" y1="327.5" x2="569.0" y2="327.5" stroke="#ec1c2c" stroke-width="1.4" />
<path d="M562.9,329.9 L565.1,325.9 L560.6999999999999,325.9Z" fill="#ec1c2c"/>
<text x="575.6" y="320.4" font-size="9.4"  text-anchor="start" fill="#262626" font-family="Liberation Sans, sans-serif" >20 injections of 46</text>
<text x="575.6" y="330.8" font-size="9.4"  text-anchor="start" fill="#262626" font-family="Liberation Sans, sans-serif" >nl per injection</text>
<text x="575.6" y="341.2" font-size="9.4"  text-anchor="start" fill="#262626" font-family="Liberation Sans, sans-serif" >(n=4)</text>
<line x1="5.1" y1="215.6" x2="166.2" y2="215.6" stroke="#333" stroke-width="1.1" />
<line x1="171.2" y1="215.6" x2="332.8" y2="215.6" stroke="#333" stroke-width="1.1" />
<text x="82.8" y="211.0" font-size="10" font-weight="bold" text-anchor="middle" fill="#111" font-family="Liberation Sans, sans-serif" >control</text>
<text x="251.8" y="210.8" font-size="10" text-anchor="middle" fill="#111" font-family="Liberation Sans, sans-serif"><tspan font-weight="bold">1</tspan> µl injection in 30 sec</text>
</svg>
</body></html>
